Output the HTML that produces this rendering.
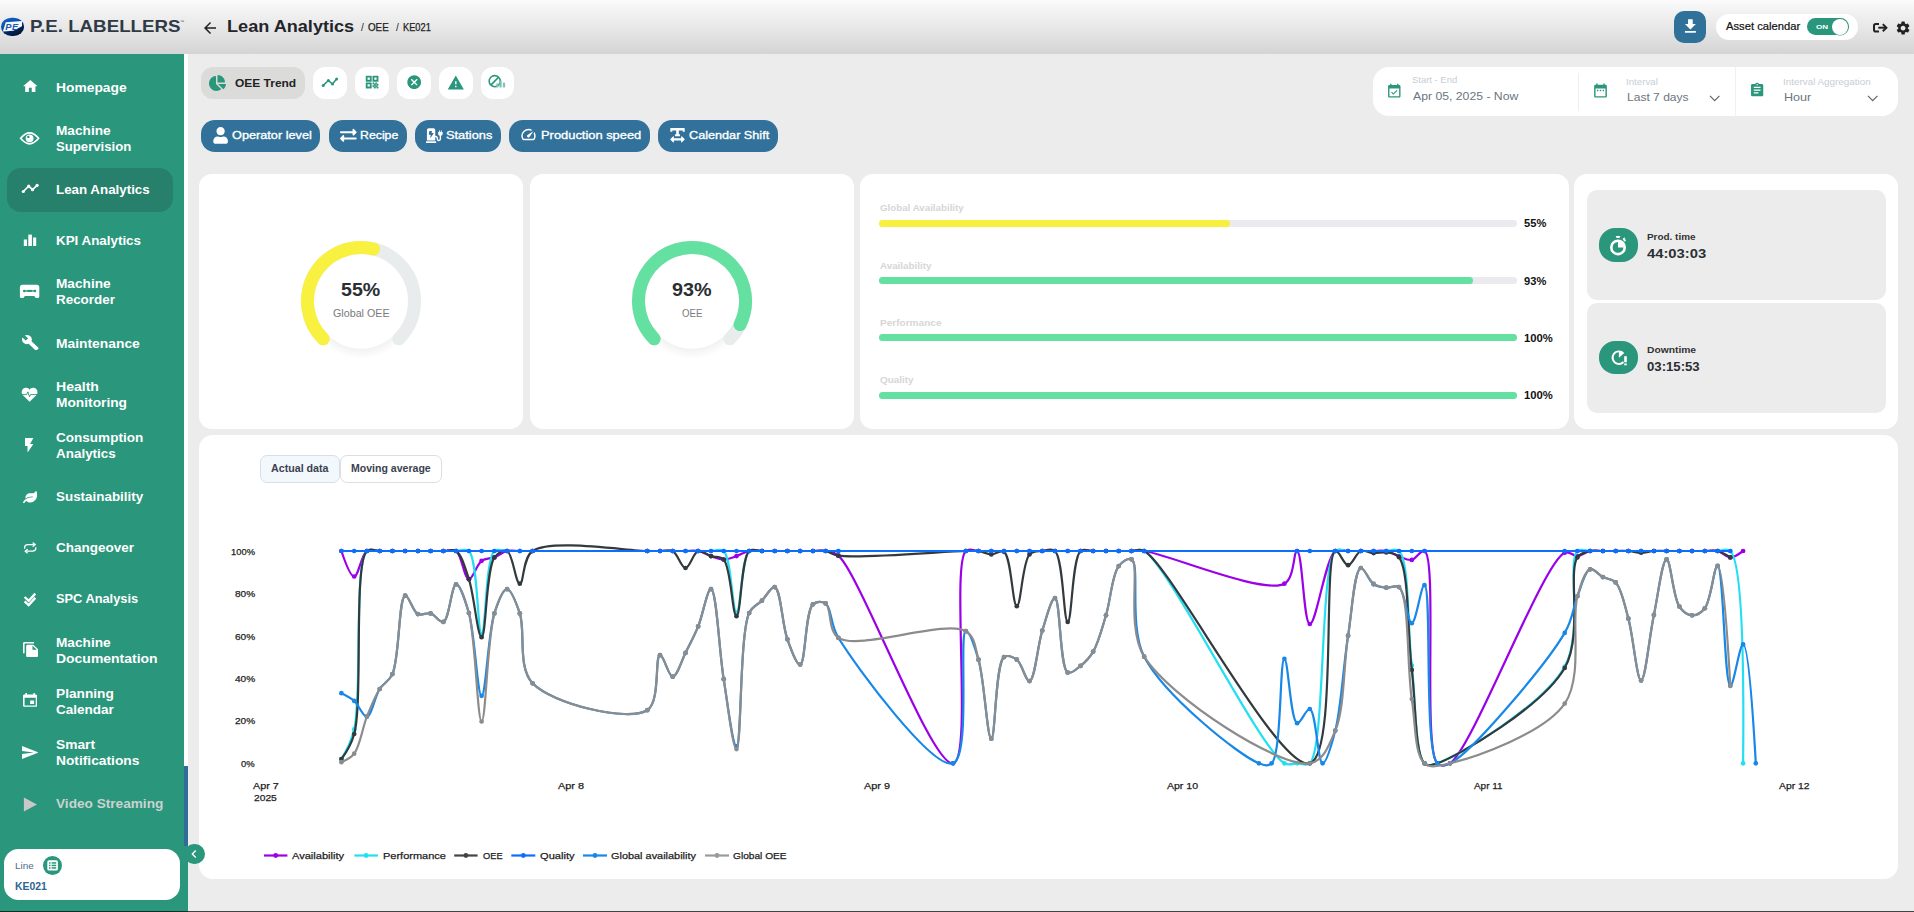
<!DOCTYPE html>
<html lang="en"><head><meta charset="utf-8"><title>Lean Analytics - OEE - KE021</title>
<style>
*{box-sizing:border-box;margin:0;padding:0}
html,body{width:1914px;height:912px;overflow:hidden;background:#ececec;font-family:"Liberation Sans",sans-serif;}
.abs,.t,svg.i{position:absolute}
.t{white-space:nowrap;display:block;transform-origin:0 50%}
#hdr{left:0;top:0;width:1914px;height:54px;background:linear-gradient(#fbfbfb 0%,#f2f2f2 22%,#e6e6e6 55%,#d4d4d4 100%)}
#side{left:0;top:54px;width:184px;height:858px;background:#2a967c;overflow:hidden}
#strack{left:184px;top:54px;width:4px;height:858px;background:#fff}
#sthumb{left:184px;top:766px;width:4px;height:146px;background:#2f6c97}
#sfoot{left:0;top:846px;width:188px;height:66px;background:#2a967c}
#act{left:7px;top:168px;width:166px;height:44px;border-radius:14px;background:#26806b}
.card{background:#fff;border-radius:13px}
.pill{border-radius:12px;background:#fff}
.bb{border-radius:14px;background:#31719a;top:120px;height:32px}
svg.i{display:block}
#btm{left:0;top:911px;width:1914px;height:1px;background:rgba(0,0,0,.72)}
</style></head><body>
<div class="abs" id="hdr"></div>
<svg class="i" style="left:0;top:17px" width="26" height="20" viewBox="0 0 26 20"><defs><linearGradient id="lg" x1="0.1" y1="0" x2="0.75" y2="1"><stop offset="0" stop-color="#0f66cc"/><stop offset="0.4" stop-color="#0a4fae"/><stop offset="0.64" stop-color="#05265e"/><stop offset="1" stop-color="#02102e"/></linearGradient></defs><rect x="1" y="0.7" width="23.1" height="18.3" rx="10.5" ry="9.1" fill="url(#lg)"/><path d="M5.7 5.3L22 4.1L22 9.3L13.4 13.8L2.9 14.4Z" fill="#f3f9ff"/><text x="5.3" y="12.9" font-family="Liberation Sans, sans-serif" font-weight="700" font-style="italic" font-size="9.3" fill="#1b58ae" letter-spacing="0.6">PE</text></svg>
<span class="t" id="logo" style="left:29.5px;top:17px;font-size:16.5px;line-height:18px;color:#2f3a44;font-weight:700;transform:scaleX(1.1346);">P.E. LABELLERS</span>
<span class="t" id="t2" style="left:180.0px;top:19px;font-size:4px;line-height:5px;color:#2f3a44;">™</span>
<svg class="i" style="left:201.0px;top:18.8px" width="18.0" height="18.0" viewBox="0 0 24 24" fill="#222" ><path d="M20 11H7.83l5.59-5.59L12 4l-8 8 8 8 1.41-1.41L7.83 13H20v-2z"/></svg>
<span class="t" id="title" style="left:227.3px;top:18px;font-size:16px;line-height:17px;color:#23252b;font-weight:700;transform:scaleX(1.1322);">Lean Analytics</span>
<span class="t" id="t4" style="left:360.9px;top:22px;font-size:10px;line-height:11px;color:#222;">/</span>
<span class="t" id="bc1" style="left:368.0px;top:22px;font-size:10px;line-height:11px;color:#222;transform:scaleX(0.9799);-webkit-text-stroke:0.25px #222;">OEE</span>
<span class="t" id="t6" style="left:396.0px;top:22px;font-size:10px;line-height:11px;color:#222;">/</span>
<span class="t" id="bc2" style="left:402.9px;top:22px;font-size:10px;line-height:11px;color:#222;transform:scaleX(0.9257);-webkit-text-stroke:0.25px #222;">KE021</span>
<div class="abs " style="left:1674.2px;top:10.8px;width:31.8px;height:32.0px;background:#30719a;border-radius:10px"></div>
<svg class="i" style="left:1680.9px;top:16.6px" width="18.8" height="18.8" viewBox="0 0 24 24" fill="#fff" ><path d="M19 9h-4V3H9v6H5l7 7 7-7zM5 18v2h14v-2H5z"/></svg>
<div class="abs " style="left:1716.0px;top:13.8px;width:142.0px;height:26.2px;background:#fff;border-radius:13.1px"></div>
<span class="t" id="asset" style="left:1725.6px;top:21px;font-size:10.3px;line-height:11px;color:#111;transform:scaleX(1.0892);-webkit-text-stroke:0.2px #111;">Asset calendar</span>
<div class="abs " style="left:1807.0px;top:18.4px;width:41.8px;height:17.0px;background:#2a967c;border-radius:8.5px"></div>
<div class="abs " style="left:1832.2px;top:18.9px;width:16.0px;height:16.0px;background:#fff;border-radius:8px;box-shadow:0 0 0 0.6px #2a967c"></div>
<span class="t" id="on" style="left:1815.9px;top:24px;font-size:6px;line-height:6px;color:#fff;font-weight:700;transform:scaleX(1.3444);">ON</span>
<svg class="i" style="left:1870.0px;top:20.0px" width="20.0" height="16.0" viewBox="1870 20 20 16" fill="#fff" ><g fill="none" stroke="#222" stroke-width="2"><path d="M1879 23.9H1875.8A1.8 1.8 0 0 0 1874 25.7V29.700A1.8 1.8 0 0 0 1875.8 31.500H1879"/><path d="M1878.300 27.700H1885.600"/><path d="M1882.800 24.100L1886.400 27.700L1882.800 31.300"/></g></svg>
<svg class="i" style="left:1894.8px;top:19.9px" width="16.2" height="16.2" viewBox="0 0 24 24" fill="#222" ><path d="M19.14 12.94c.04-.3.06-.61.06-.94 0-.32-.02-.64-.07-.94l2.03-1.58c.18-.14.23-.41.12-.61l-1.92-3.32c-.12-.22-.37-.29-.59-.22l-2.39.96c-.5-.38-1.03-.7-1.62-.94l-.36-2.54c-.04-.24-.24-.41-.48-.41h-3.84c-.24 0-.43.17-.47.41l-.36 2.54c-.59.24-1.13.57-1.62.94l-2.39-.96c-.22-.08-.47 0-.59.22L2.74 8.87c-.12.21-.08.47.12.61l2.03 1.58c-.05.3-.09.63-.09.94s.02.64.07.94l-2.03 1.58c-.18.14-.23.41-.12.61l1.92 3.32c.12.22.37.29.59.22l2.39-.96c.5.38 1.03.7 1.62.94l.36 2.54c.05.24.24.41.48.41h3.84c.24 0 .44-.17.47-.41l.36-2.54c.59-.24 1.13-.56 1.62-.94l2.39.96c.22.08.47 0 .59-.22l1.92-3.32c.12-.22.07-.47-.12-.61l-2.01-1.58zM12 15.6c-1.98 0-3.6-1.62-3.6-3.6s1.62-3.6 3.6-3.6 3.6 1.62 3.6 3.6-1.62 3.6-3.6 3.6z"/></svg>
<div class="abs" id="side"></div>
<div class="abs" id="strack"></div>
<div class="abs" id="sthumb"></div>
<div class="abs" id="act"></div>
<svg class="i" style="left:22.8px;top:79.9px" width="14.6" height="12.0" viewBox="2 3 20 17" preserveAspectRatio="none" fill="#fff"><path d="M10 20v-6h4v6h5v-8h3L12 3 2 12h3v8z"/></svg>
<span class="t" id="sb0" style="left:55.8px;top:80px;font-size:13px;line-height:15px;color:#fff;font-weight:700;transform:scaleX(1.0637);">Homepage</span>
<svg class="i" style="left:18.0px;top:130.0px" width="24.0" height="17.0" viewBox="18 130 24 17" fill="#fff"><path d="M20.600 138.300Q29.600 127.300 38.600 138.300Q29.600 149.300 20.600 138.300Z" fill="none" stroke="#fff" stroke-width="1.7"/><circle cx="29.600" cy="138.300" r="3.900"/><circle cx="28.300" cy="136.900" r="1.200" fill="#2a967c"/></svg>
<span class="t" id="sb1a" style="left:55.8px;top:123px;font-size:13px;line-height:15px;color:#fff;font-weight:700;transform:scaleX(1.0497);">Machine</span>
<span class="t" id="sb1b" style="left:55.8px;top:139px;font-size:13px;line-height:15px;color:#fff;font-weight:700;transform:scaleX(1.0118);">Supervision</span>
<svg class="i" style="left:20.0px;top:182.0px" width="20.0" height="13.0" viewBox="20 182 20 13" fill="#fff"><path d="M23.300 191.500L28.700 186.100L32.500 189.700L37.100 185.300" fill="none" stroke="#fff" stroke-width="1.700" stroke-linejoin="round"/><circle cx="23.300" cy="191.500" r="1.600"/><circle cx="28.700" cy="186.100" r="1.600"/><circle cx="32.500" cy="189.700" r="1.600"/><circle cx="37.100" cy="185.300" r="1.600"/></svg>
<span class="t" id="sb2" style="left:55.8px;top:182px;font-size:13px;line-height:15px;color:#fff;font-weight:700;transform:scaleX(1.0265);">Lean Analytics</span>
<svg class="i" style="left:22.0px;top:233.0px" width="16.0" height="14.0" viewBox="22 233 16 14" fill="#fff"><rect x="23.800" y="239.500" width="3.200" height="6.500"/><rect x="28.300" y="234.600" width="3.600" height="11.400"/><rect x="33.100" y="237.500" width="3.100" height="8.500"/></svg>
<span class="t" id="sb3" style="left:55.8px;top:233px;font-size:13px;line-height:15px;color:#fff;font-weight:700;transform:scaleX(1.0289);">KPI Analytics</span>
<svg class="i" style="left:19.0px;top:284.0px" width="21.0" height="15.0" viewBox="19 284 21 15" fill="#fff"><path d="M22.400 284.800H36.800A2.500 2.500 0 0 1 39.300 287.300V296.400A1.500 1.500 0 0 1 37.800 297.900H35.800L34.300 295.900H24.900L23.400 297.900H21.400A1.500 1.500 0 0 1 19.900 296.400V287.300A2.500 2.500 0 0 1 22.400 284.800Z"/><g fill="#2a967c"><rect x="23.500" y="290.300" width="12.200" height="1.300"/><circle cx="24.300" cy="290.950" r="1.300"/><circle cx="34.900" cy="290.950" r="1.300"/><rect x="27.300" y="289.900" width="4.600" height="2.100"/></g></svg>
<span class="t" id="sb4a" style="left:55.8px;top:276px;font-size:13px;line-height:15px;color:#fff;font-weight:700;transform:scaleX(1.0497);">Machine</span>
<span class="t" id="sb4b" style="left:55.8px;top:292px;font-size:13px;line-height:15px;color:#fff;font-weight:700;transform:scaleX(1.0319);">Recorder</span>
<svg class="i" style="left:21.8px;top:334.6px" width="16.8" height="15.3" viewBox="1 1.2 22.2 21.400000000000002" preserveAspectRatio="none" fill="#fff"><path d="M22.7 19l-9.1-9.1c.9-2.3.4-5-1.5-6.9-2-2-5-2.4-7.4-1.3L9 6 6 9 1.6 4.7C.4 7.1.9 10.1 2.9 12.1c1.9 1.9 4.6 2.4 6.9 1.5l9.1 9.1c.4.4 1 .4 1.4 0l2.3-2.3c.5-.4.5-1.1.1-1.4z"/></svg>
<span class="t" id="sb5" style="left:55.8px;top:336px;font-size:13px;line-height:15px;color:#fff;font-weight:700;transform:scaleX(1.0641);">Maintenance</span>
<svg class="i" style="left:20.0px;top:386.0px" width="20.0" height="17.0" viewBox="20 386 20 17" fill="#fff"><path d="M29.600 401.800L22.900 395.300C20.700 393.100 21.600 389.300 24.500 388.100C26.500 387.300 28.500 388.100 29.600 389.700C30.700 388.100 32.700 387.300 34.700 388.100C37.600 389.300 38.500 393.100 36.300 395.300Z"/><path d="M21.500 394.600H26.700L27.900 391.900L29.500 396.800L30.500 394.600H37.700" fill="none" stroke="#2a967c" stroke-width="0.9"/></svg>
<span class="t" id="sb6a" style="left:55.8px;top:379px;font-size:13px;line-height:15px;color:#fff;font-weight:700;transform:scaleX(1.0797);">Health</span>
<span class="t" id="sb6b" style="left:55.8px;top:395px;font-size:13px;line-height:15px;color:#fff;font-weight:700;transform:scaleX(1.0572);">Monitoring</span>
<svg class="i" style="left:25.3px;top:437.6px" width="8.4" height="14.7" viewBox="7 2 10 20" preserveAspectRatio="none" fill="#fff"><path d="M7 2v11h3v9l7-12h-4l4-8z"/></svg>
<span class="t" id="sb7a" style="left:55.8px;top:430px;font-size:13px;line-height:15px;color:#fff;font-weight:700;transform:scaleX(1.0410);">Consumption</span>
<span class="t" id="sb7b" style="left:55.8px;top:446px;font-size:13px;line-height:15px;color:#fff;font-weight:700;transform:scaleX(1.0344);">Analytics</span>
<svg class="i" style="left:22.6px;top:490.7px" width="14.2" height="12.3" viewBox="0 0 576 512" preserveAspectRatio="none" fill="#fff"><path d="M546.2 9.7c-5.6-12.5-21.6-13-28.3-1.2C486.9 62.4 431.4 96 368 96h-80C182 96 96 182 96 288c0 7 .8 13.700 1.500 20.500C161.300 262.800 253.400 224 384 224c8.800 0 16 7.200 16 16s-7.200 16-16 16C132.600 256 26 410.100 2.400 468c-6.600 16.300 1.200 34.900 17.500 41.600 16.400 6.800 35-1.100 41.800-17.300 1.500-3.600 20.900-47.900 71.900-90.600 32.400 43.900 94 85.800 174.900 77.200C465.500 467.500 576 326.700 576 154.300c0-50.200-10.800-102.200-29.800-144.600z"/></svg>
<span class="t" id="sb8" style="left:55.8px;top:489px;font-size:13px;line-height:15px;color:#fff;font-weight:700;transform:scaleX(1.0316);">Sustainability</span>
<svg class="i" style="left:22.0px;top:541.0px" width="16.0" height="14.0" viewBox="22 541 16 14" fill="#fff"><g fill="none" stroke="#fff" stroke-width="1.300" stroke-linecap="round" stroke-linejoin="round"><path d="M24.600 548.200V547.700A3.100 3.100 0 0 1 27.700 544.600H35"/><path d="M33.100 542.900L35.200 544.600L33.100 546.300"/><path d="M35.800 547.600V548.100A3.100 3.100 0 0 1 32.700 551.200H25.400"/><path d="M27.300 549.500L25.200 551.200L27.300 552.900"/></g></svg>
<span class="t" id="sb9" style="left:55.8px;top:540px;font-size:13px;line-height:15px;color:#fff;font-weight:700;transform:scaleX(1.0394);">Changeover</span>
<svg class="i" style="left:22.0px;top:591.0px" width="16.0" height="16.0" viewBox="22 591 16 16" fill="#fff"><g fill="none" stroke="#fff" stroke-width="2.300"><path d="M24.600 597L28.700 600.800L35.300 593.600"/><path d="M24.600 601.300L28.700 605.100L35.300 597.900"/></g></svg>
<span class="t" id="sb10" style="left:55.8px;top:591px;font-size:13px;line-height:15px;color:#fff;font-weight:700;transform:scaleX(0.9851);">SPC Analysis</span>
<svg class="i" style="left:22.6px;top:642.0px" width="15.0" height="15.3" viewBox="2 1 19 22" preserveAspectRatio="none" fill="#fff"><path d="M16 1H4c-1.1 0-2 .9-2 2v14h2V3h12V1zm-1 4l6 6v10c0 1.1-.9 2-2 2H7.99C6.89 23 6 22.1 6 21l.01-14c0-1.1.89-2 1.99-2h7zm-1 7h5.5L14 6.5V12z"/></svg>
<span class="t" id="sb11a" style="left:55.8px;top:635px;font-size:13px;line-height:15px;color:#fff;font-weight:700;transform:scaleX(1.0497);">Machine</span>
<span class="t" id="sb11b" style="left:55.8px;top:651px;font-size:13px;line-height:15px;color:#fff;font-weight:700;transform:scaleX(1.0737);">Documentation</span>
<svg class="i" style="left:23.0px;top:692.9px" width="14.3" height="13.8" viewBox="3 1 18 20" preserveAspectRatio="none" fill="#fff"><path d="M17 12h-5v5h5v-5zM16 1v2H8V1H6v2H5c-1.11 0-1.99.9-1.99 2L3 19c0 1.1.89 2 2 2h14c1.1 0 2-.9 2-2V5c0-1.1-.9-2-2-2h-1V1h-2zm3 18H5V8h14v11z"/></svg>
<span class="t" id="sb12a" style="left:55.8px;top:686px;font-size:13px;line-height:15px;color:#fff;font-weight:700;transform:scaleX(1.0530);">Planning</span>
<span class="t" id="sb12b" style="left:55.8px;top:702px;font-size:13px;line-height:15px;color:#fff;font-weight:700;transform:scaleX(1.0388);">Calendar</span>
<svg class="i" style="left:21.5px;top:745.8px" width="16.4" height="13.0" viewBox="2 3 21 18" preserveAspectRatio="none" fill="#fff"><path d="M2.01 21L23 12 2.01 3 2 10l15 2-15 2z"/></svg>
<span class="t" id="sb13a" style="left:55.8px;top:737px;font-size:13px;line-height:15px;color:#fff;font-weight:700;transform:scaleX(1.0581);">Smart</span>
<span class="t" id="sb13b" style="left:55.8px;top:753px;font-size:13px;line-height:15px;color:#fff;font-weight:700;transform:scaleX(1.0593);">Notifications</span>
<svg class="i" style="left:22.0px;top:796.0px" width="16.0" height="17.0" viewBox="22 796 16 17" fill="#c8c8c8"><path d="M23.900 797.400L36.900 804.500L23.900 811.600Z"/></svg>
<span class="t" id="sb14" style="left:55.8px;top:796px;font-size:13px;line-height:15px;color:#c9d3cf;font-weight:700;transform:scaleX(1.0484);">Video Streaming</span>
<div class="abs" id="sfoot"></div>
<div class="abs " style="left:4.0px;top:848.7px;width:176.2px;height:51.4px;background:#fff;border-radius:14.5px"></div>
<span class="t" id="line" style="left:14.5px;top:861px;font-size:9px;line-height:10px;color:#4f6e8c;transform:scaleX(1.1049);">Line</span>
<div class="abs " style="left:43.0px;top:856.0px;width:19.0px;height:19.0px;background:#2a967c;border-radius:50%"></div>
<svg class="i" style="left:43.0px;top:856.0px" width="19.0" height="19.0" viewBox="43 856 19 19" fill="#fff" ><rect x="47.3" y="860.3" width="10.6" height="10.2" rx="1.6"/><g fill="#2a967c"><rect x="49" y="862.2" width="1.5" height="1.5"/><rect x="49" y="864.700" width="1.5" height="1.5"/><rect x="49" y="867.200" width="1.5" height="1.5"/><rect x="51.600" y="862.2" width="4.600" height="1.5"/><rect x="51.600" y="864.700" width="4.600" height="1.5"/><rect x="51.600" y="867.200" width="4.600" height="1.5"/></g></svg>
<span class="t" id="ke" style="left:14.5px;top:880px;font-size:11px;line-height:12px;color:#2f6690;font-weight:700;transform:scaleX(0.9453);">KE021</span>
<div class="abs " style="left:201.2px;top:67.0px;width:103.8px;height:31.8px;background:#dbdbd9;border-radius:12px"></div>
<svg class="i" style="left:209.2px;top:74.7px" width="17.0" height="16.0" viewBox="0 0 544 512" fill="#2a967c" ><path d="M527.79 288H290.5l158.03 158.03c6.04 6.04 15.98 6.53 22.19.68 38.7-36.46 65.32-85.61 73.13-140.86 1.34-9.46-6.51-17.85-16.06-17.85zm-15.83-64.8C503.72 103.74 408.26 8.28 288.8.04 279.68-.59 272 7.1 272 16.24V240h223.77c9.14 0 16.82-7.68 16.19-16.8zM224 288V50.71c0-9.55-8.39-17.4-17.84-16.06C86.99 51.49-4.1 155.6.14 280.37 4.5 408.51 114.83 513.59 243.03 511.98c50.4-.63 96.97-16.87 135.26-44.03 7.9-5.6 8.42-17.23 1.57-24.08L224 288z"/></svg>
<span class="t" id="oeet" style="left:234.8px;top:77px;font-size:11px;line-height:12px;color:#222;font-weight:700;transform:scaleX(1.0880);">OEE Trend</span>
<div class="abs pill" style="left:313.0px;top:67.0px;width:33.7px;height:31.8px;"></div>
<div class="abs pill" style="left:355.0px;top:67.0px;width:33.7px;height:31.8px;"></div>
<div class="abs pill" style="left:397.0px;top:67.0px;width:33.7px;height:31.8px;"></div>
<div class="abs pill" style="left:439.1px;top:67.0px;width:33.7px;height:31.8px;"></div>
<div class="abs pill" style="left:480.8px;top:67.0px;width:33.7px;height:31.8px;"></div>
<svg class="i" style="left:313.0px;top:67.0px" width="34.0" height="32.0" viewBox="313 67 34 32" fill="#fff" ><path d="M323.2 85.4L328.4 80.5L332.5 84.1L336.6 79.1" fill="none" stroke="#2a967c" stroke-width="1.6" stroke-linejoin="round"/><g fill="#2a967c"><circle cx="323.2" cy="85.4" r="1.5"/><circle cx="328.4" cy="80.5" r="1.5"/><circle cx="332.5" cy="84.1" r="1.5"/><circle cx="336.6" cy="79.1" r="1.5"/></g></svg>
<svg class="i" style="left:364.0px;top:74.2px" width="16.2" height="16.2" viewBox="0 0 24 24" fill="#2a967c" stroke="#2a967c" stroke-width="0.7"><path d="M3 11h8V3H3v8zm2-6h4v4H5V5zM3 21h8v-8H3v8zm2-6h4v4H5v-4zM13 3v8h8V3h-8zm6 6h-4V5h4v4zM13 13h2v2h-2zM15 15h2v2h-2zM13 17h2v2h-2zM17 13h2v2h-2zM19 15h2v2h-2zM17 17h2v2h-2zM15 19h2v2h-2zM19 19h2v2h-2z"/></svg>
<svg class="i" style="left:405.8px;top:74.2px" width="16.4" height="16.4" viewBox="0 0 24 24" fill="#2a967c" ><path d="M12 2C6.47 2 2 6.47 2 12s4.47 10 10 10 10-4.47 10-10S17.53 2 12 2zm5 13.59L15.59 17 12 13.41 8.41 17 7 15.59 10.59 12 7 8.41 8.41 7 12 10.59 15.59 7 17 8.41 13.41 12 17 15.59z"/></svg>
<svg class="i" style="left:447.2px;top:73.6px" width="17.6" height="17.6" viewBox="0 0 24 24" fill="#2a967c" ><path d="M1 21h22L12 2 1 21zm12-3h-2v-2h2v2zm0-4h-2v-4h2v4z"/></svg>
<svg class="i" style="left:488.0px;top:73.5px" width="19.0" height="19.0" viewBox="0 0 24 24" fill="#2a967c" ><circle cx="8.5" cy="9" r="7" fill="none" stroke="#2a967c" stroke-width="2"/><path d="M3.6 14L13.4 4" stroke="#2a967c" stroke-width="2"/><g fill="#7fc3b2"><rect x="10.5" y="12" width="2.6" height="5"/><rect x="14.5" y="8.5" width="2.8" height="8.500"/><rect x="18.800" y="11" width="2.800" height="6"/></g></svg>
<div class="abs bb" style="left:201.2px;top:119.9px;width:118.6px;height:32.1px;"></div>
<svg class="i" style="left:212.7px;top:127.2px" width="15.2" height="16.7" viewBox="0 0 448 512" fill="#fff" ><path d="M224 256c70.7 0 128-57.3 128-128S294.7 0 224 0 96 57.3 96 128s57.3 128 128 128zm89.6 32h-16.7c-22.2 10.2-46.9 16-72.9 16s-50.6-5.8-72.9-16h-16.7C60.2 288 0 348.2 0 422.4V464c0 26.5 21.5 48 48 48h352c26.5 0 48-21.5 48-48v-41.6c0-74.2-60.2-134.4-134.4-134.4z"/></svg>
<span class="t" id="bb0" style="left:231.7px;top:129px;font-size:11.6px;line-height:12px;color:#fff;transform:scaleX(1.0957);-webkit-text-stroke:0.35px #fff;">Operator level</span>
<div class="abs bb" style="left:329.1px;top:119.9px;width:77.6px;height:32.1px;"></div>
<svg class="i" style="left:340.0px;top:127.0px" width="16.7" height="16.7" viewBox="0 0 512 512" fill="#fff" ><path d="M0 168v-16c0-13.255 10.745-24 24-24h360V80c0-21.367 25.899-32.042 40.971-16.971l80 80c9.372 9.373 9.372 24.569 0 33.941l-80 80C409.956 271.982 384 261.456 384 240v-48H24c-13.255 0-24-10.745-24-24zm488 152H128v-48c0-21.314-25.862-32.08-40.971-16.971l-80 80c-9.372 9.373-9.372 24.569 0 33.941l80 80C102.057 463.997 128 453.437 128 432v-48h360c13.255 0 24-10.745 24-24v-16c0-13.255-10.745-24-24-24z"/></svg>
<span class="t" id="bb1" style="left:359.8px;top:129px;font-size:11.6px;line-height:12px;color:#fff;transform:scaleX(1.0611);-webkit-text-stroke:0.35px #fff;">Recipe</span>
<div class="abs bb" style="left:415.0px;top:119.9px;width:85.8px;height:32.1px;"></div>
<svg class="i" style="left:426.2px;top:127.5px" width="16.7" height="15.5" viewBox="0 0 576 512" fill="#fff" ><path d="M336 448H16c-8.84 0-16 7.16-16 16v32c0 8.84 7.16 16 16 16h320c8.84 0 16-7.16 16-16v-32c0-8.84-7.16-16-16-16zm208-320V80c0-8.84-7.16-16-16-16s-16 7.16-16 16v48h-32V80c0-8.84-7.16-16-16-16s-16 7.16-16 16v48h-16c-8.84 0-16 7.16-16 16v32c0 35.76 23.62 65.69 56 75.93v118.49c0 13.95-9.5 26.92-23.26 29.19C431.22 402.5 416 388.99 416 372v-28c0-48.6-39.4-88-88-88h-8V64c0-35.35-28.65-64-64-64H96C60.65 0 32 28.65 32 64v352h288V304h8c22.09 0 40 17.91 40 40v24.61c0 39.67 28.92 75.16 68.41 79.01C481.71 452.05 520 416.41 520 372V251.930c32.38-10.24 56-40.17 56-75.93v-32c0-8.84-7.16-16-16-16h-16zm-283.91 47.76l-93.7 139c-2.2 3.33-6.21 5.24-10.39 5.240-7.67 0-13.47-6.28-11.67-12.92L167.350 224H108c-7.25 0-12.85-5.59-11.89-11.89l16-107C112.900 99.900 117.980 96 124 96h68c7.88 0 13.62 6.54 11.600 13.210L192 160h57.700c9.240 0 15.010 8.780 10.390 15.760z"/></svg>
<span class="t" id="bb2" style="left:446.3px;top:129px;font-size:11.6px;line-height:12px;color:#fff;transform:scaleX(1.1048);-webkit-text-stroke:0.35px #fff;">Stations</span>
<div class="abs bb" style="left:508.9px;top:119.9px;width:140.9px;height:32.1px;"></div>
<svg class="i" style="left:520.4px;top:125.6px" width="17.0" height="17.0" viewBox="0 0 24 24" fill="#fff" ><path d="M20.38 8.57l-1.23 1.85a8 8 0 0 1-.22 7.58H5.07A8 8 0 0 1 15.58 6.85l1.85-1.23A10 10 0 0 0 3.35 19a2 2 0 0 0 1.72 1h13.85a2 2 0 0 0 1.74-1 10 10 0 0 0-.27-10.44zm-9.79 6.84a2 2 0 0 0 2.83 0l5.66-8.49-8.49 5.66a2 2 0 0 0 0 2.83z"/></svg>
<span class="t" id="bb3" style="left:540.5px;top:129px;font-size:11.6px;line-height:12px;color:#fff;transform:scaleX(1.1114);-webkit-text-stroke:0.35px #fff;">Production speed</span>
<div class="abs bb" style="left:658.1px;top:119.9px;width:119.8px;height:32.1px;"></div>
<svg class="i" style="left:669.8px;top:127.0px" width="15.0" height="16.5" viewBox="0 0 448 512" fill="#fff" ><path d="M432 32H16A16 16 0 0 0 0 48v80a16 16 0 0 0 16 16h32a16 16 0 0 0 16-16v-16h120v112h-24a16 16 0 0 0-16 16v32a16 16 0 0 0 16 16h128a16 16 0 0 0 16-16v-32a16 16 0 0 0-16-16h-24V112h120v16a16 16 0 0 0 16 16h32a16 16 0 0 0 16-16V48a16 16 0 0 0-16-16zm-68.69 260.69C354 283.36 336 288.36 336 304v48H112v-48c0-14.31-17.31-21.32-27.31-11.31l-80 80a16 16 0 0 0 0 22.62l80 80C94 484.64 112 479.64 112 464v-48h224v48c0 14.31 17.31 21.33 27.31 11.31l80-80a16 16 0 0 0 0-22.62z"/></svg>
<span class="t" id="bb4" style="left:689.1px;top:129px;font-size:11.6px;line-height:12px;color:#fff;transform:scaleX(1.0916);-webkit-text-stroke:0.35px #fff;">Calendar Shift</span>
<div class="abs " style="left:1373.1px;top:67.1px;width:525.3px;height:49.4px;background:#fff;border-radius:16px"></div>
<svg class="i" style="left:1386.3px;top:82.6px" width="16.6" height="16.6" viewBox="0 0 24 24" fill="#2a967c" ><path d="M16.53 11.06L15.47 10l-4.88 4.88-2.12-2.12-1.06 1.06L10.59 17l5.94-5.94zM19 3h-1V1h-2v2H8V1H6v2H5c-1.11 0-1.99.9-1.99 2L3 19c0 1.1.89 2 2 2h14c1.1 0 2-.9 2-2V5c0-1.1-.9-2-2-2zm0 16H5V8h14v11z"/></svg>
<span class="t" id="f1" style="left:1412.0px;top:75px;font-size:9.2px;line-height:10px;color:#c6ced6;transform:scaleX(1.0291);">Start - End</span>
<span class="t" id="f2" style="left:1412.7px;top:90px;font-size:11px;line-height:12px;color:#6c7680;transform:scaleX(1.1110);">Apr 05, 2025 - Now</span>
<div class="abs " style="left:1578.0px;top:72.6px;width:1.0px;height:38.0px;background:#efefef"></div>
<svg class="i" style="left:1591.5px;top:81.6px" width="17.0" height="17.0" viewBox="0 0 24 24" fill="#2a967c" ><path d="M9 11H7v2h2v-2zm4 0h-2v2h2v-2zm4 0h-2v2h2v-2zm2-7h-1V2h-2v2H8V2H6v2H5c-1.11 0-1.99.9-1.99 2L3 20c0 1.1.89 2 2 2h14c1.1 0 2-.9 2-2V6c0-1.1-.9-2-2-2zm0 16H5V9h14v11z"/></svg>
<span class="t" id="f3" style="left:1626.2px;top:77px;font-size:9px;line-height:10px;color:#c6ced6;transform:scaleX(1.0774);">Interval</span>
<span class="t" id="f4" style="left:1626.6px;top:91px;font-size:11px;line-height:12px;color:#6c7680;transform:scaleX(1.0948);">Last 7 days</span>
<svg class="i" style="left:1708.6px;top:95.3px" width="11.4" height="6.6" viewBox="0 0 12 7" fill="#fff" ><path d="M1 1l5 5 5-5" fill="none" stroke="#666" stroke-width="1.3"/></svg>
<div class="abs " style="left:1735.0px;top:67.1px;width:1.0px;height:49.4px;background:#f1f1f1"></div>
<svg class="i" style="left:1749.2px;top:81.7px" width="16.3" height="16.3" viewBox="0 0 24 24" fill="#2a967c" ><path d="M19 3h-4.18C14.4 1.84 13.3 1 12 1c-1.3 0-2.4.84-2.82 2H5c-1.1 0-2 .9-2 2v14c0 1.1.9 2 2 2h14c1.1 0 2-.9 2-2V5c0-1.1-.9-2-2-2zm-7 0c.55 0 1 .45 1 1s-.45 1-1 1-1-.45-1-1 .45-1 1-1zm2 14H7v-2h7v2zm3-4H7v-2h10v2zm0-4H7V7h10v2z"/></svg>
<span class="t" id="f5" style="left:1783.3px;top:77px;font-size:9px;line-height:10px;color:#c6ced6;transform:scaleX(1.0954);">Interval Aggregation</span>
<span class="t" id="f6" style="left:1784.2px;top:91px;font-size:11px;line-height:12px;color:#6c7680;transform:scaleX(1.1450);">Hour</span>
<svg class="i" style="left:1866.8px;top:95.3px" width="11.4" height="6.6" viewBox="0 0 12 7" fill="#fff" ><path d="M1 1l5 5 5-5" fill="none" stroke="#666" stroke-width="1.3"/></svg>
<div class="abs card" style="left:199.0px;top:173.8px;width:324.0px;height:255.4px;"></div>
<div class="abs card" style="left:530.0px;top:173.8px;width:324.0px;height:255.4px;"></div>
<div class="abs card" style="left:860.0px;top:173.8px;width:708.5px;height:255.4px;"></div>
<div class="abs card" style="left:1573.8px;top:173.8px;width:324.4px;height:255.4px;"></div>
<svg class="i" style="left:291.0px;top:231.2px" width="140" height="140" viewBox="291.0 231.2 140 140"><defs><radialGradient id="sh361" cx="0.5" cy="0.5" r="0.5"><stop offset="0.82" stop-color="#000" stop-opacity="0.05"/><stop offset="1" stop-color="#000" stop-opacity="0"/></radialGradient></defs><circle cx="361.0" cy="305.2" r="54" fill="url(#sh361)"/><circle cx="361.0" cy="301.2" r="47.5" fill="#fff"/><path d="M323.17 339.03 A53.50 53.50 0 1 1 398.83 339.03" fill="none" stroke="#e8ecec" stroke-width="13" stroke-linecap="round"/><path d="M323.17 339.03 A53.50 53.50 0 0 1 373.49 249.18" fill="none" stroke="#f9f13f" stroke-width="13" stroke-linecap="round"/></svg>
<svg class="i" style="left:622.0px;top:231.2px" width="140" height="140" viewBox="622.0 231.2 140 140"><defs><radialGradient id="sh692" cx="0.5" cy="0.5" r="0.5"><stop offset="0.82" stop-color="#000" stop-opacity="0.05"/><stop offset="1" stop-color="#000" stop-opacity="0"/></radialGradient></defs><circle cx="692.0" cy="305.2" r="54" fill="url(#sh692)"/><circle cx="692.0" cy="301.2" r="47.5" fill="#fff"/><path d="M654.17 339.03 A53.50 53.50 0 1 1 729.83 339.03" fill="none" stroke="#e8ecec" stroke-width="13" stroke-linecap="round"/><path d="M654.17 339.03 A53.50 53.50 0 1 1 740.04 324.74" fill="none" stroke="#64e0a0" stroke-width="13" stroke-linecap="round"/></svg>
<span class="t" id="g1" style="left:341.4px;top:280px;font-size:18px;line-height:20px;color:#2b2f33;font-weight:700;transform:scaleX(1.0879);">55%</span>
<span class="t" id="g1l" style="left:332.7px;top:308px;font-size:10px;line-height:11px;color:#7a7a7a;transform:scaleX(1.0717);">Global OEE</span>
<span class="t" id="g2" style="left:672.2px;top:280px;font-size:18px;line-height:20px;color:#2b2f33;font-weight:700;transform:scaleX(1.0990);">93%</span>
<span class="t" id="g2l" style="left:681.8px;top:308px;font-size:10px;line-height:11px;color:#7a7a7a;transform:scaleX(0.9657);">OEE</span>
<span class="t" id="bl0" style="left:879.5px;top:203px;font-size:9px;line-height:10px;color:#d6d6d6;font-weight:700;transform:scaleX(1.0820);">Global Availability</span>
<div class="abs " style="left:878.9px;top:219.8px;width:637.9px;height:7.0px;background:#ebebef;border-radius:3.5px"></div>
<div class="abs " style="left:878.9px;top:219.8px;width:351.4px;height:7.0px;background:#f8ef3e;border-radius:3.5px"></div>
<span class="t" id="bp0" style="left:1523.6px;top:217px;font-size:11px;line-height:12px;color:#111;font-weight:700;transform:scaleX(1.0122);">55%</span>
<span class="t" id="bl1" style="left:879.5px;top:261px;font-size:9px;line-height:10px;color:#d6d6d6;font-weight:700;transform:scaleX(1.0893);">Availability</span>
<div class="abs " style="left:878.9px;top:277.1px;width:637.9px;height:7.0px;background:#ebebef;border-radius:3.5px"></div>
<div class="abs " style="left:878.9px;top:277.1px;width:594.3px;height:7.0px;background:#64e0a0;border-radius:3.5px"></div>
<span class="t" id="bp1" style="left:1523.6px;top:275px;font-size:11px;line-height:12px;color:#111;font-weight:700;transform:scaleX(1.0122);">93%</span>
<span class="t" id="bl2" style="left:879.5px;top:318px;font-size:9px;line-height:10px;color:#d6d6d6;font-weight:700;transform:scaleX(1.1175);">Performance</span>
<div class="abs " style="left:878.9px;top:334.4px;width:637.9px;height:7.0px;background:#ebebef;border-radius:3.5px"></div>
<div class="abs " style="left:878.9px;top:334.4px;width:637.9px;height:7.0px;background:#64e0a0;border-radius:3.5px"></div>
<span class="t" id="bp2" style="left:1523.6px;top:332px;font-size:11px;line-height:12px;color:#111;font-weight:700;transform:scaleX(1.0234);">100%</span>
<span class="t" id="bl3" style="left:879.5px;top:375px;font-size:9px;line-height:10px;color:#d6d6d6;font-weight:700;transform:scaleX(1.1011);">Quality</span>
<div class="abs " style="left:878.9px;top:391.7px;width:637.9px;height:7.0px;background:#ebebef;border-radius:3.5px"></div>
<div class="abs " style="left:878.9px;top:391.7px;width:637.9px;height:7.0px;background:#64e0a0;border-radius:3.5px"></div>
<span class="t" id="bp3" style="left:1523.6px;top:389px;font-size:11px;line-height:12px;color:#111;font-weight:700;transform:scaleX(1.0234);">100%</span>
<div class="abs " style="left:1586.9px;top:189.8px;width:299.3px;height:109.9px;background:#ececec;border-radius:10px"></div>
<div class="abs " style="left:1586.9px;top:303.2px;width:299.3px;height:109.5px;background:#ececec;border-radius:10px"></div>
<div class="abs " style="left:1598.7px;top:227.7px;width:39.1px;height:34.1px;background:#2a967c;border-radius:16px"></div>
<div class="abs " style="left:1598.7px;top:340.8px;width:39.1px;height:33.6px;background:#2a967c;border-radius:16px"></div>
<svg class="i" style="left:1598.0px;top:227.0px" width="40.0" height="36.0" viewBox="1598 227 40 36" fill="#fff" ><g transform="translate(1618 247.4)"><circle r="6.7" fill="none" stroke="#fff" stroke-width="2.6"/><path d="M0 0V-6A6 6 0 0 1 6 0Z"/><path d="M-2.4 -11.4H2.4L1.4 -9.5H-1.4Z"/><path d="M4.6 -8.4L6.4 -10.2L8 -6.6L6.6 -5.6Z"/></g></svg>
<svg class="i" style="left:1598.0px;top:340.0px" width="40.0" height="36.0" viewBox="1598 340 40 36" fill="#fff" ><g transform="translate(1618.9 357.7)"><path d="M0 -6.3A6.3 6.3 0 1 0 4.6 4.3" fill="none" stroke="#fff" stroke-width="1.9"/><path d="M0 0V-7.2A7.2 7.2 0 0 1 5.4 -4.8Z"/><rect x="5.3" y="-1.500" width="2.6" height="6.1"/><rect x="5.3" y="5.8" width="2.6" height="1.800"/></g></svg>
<span class="t" id="pt" style="left:1647.0px;top:232px;font-size:9px;line-height:10px;color:#333;font-weight:700;transform:scaleX(1.1019);">Prod. time</span>
<span class="t" id="ptv" style="left:1647.0px;top:246px;font-size:13px;line-height:15px;color:#2b2f33;font-weight:700;transform:scaleX(1.1374);">44:03:03</span>
<span class="t" id="dt" style="left:1647.0px;top:345px;font-size:9px;line-height:10px;color:#333;font-weight:700;transform:scaleX(1.1414);">Downtime</span>
<span class="t" id="dtv" style="left:1647.0px;top:359px;font-size:13px;line-height:15px;color:#2b2f33;font-weight:700;transform:scaleX(1.0125);">03:15:53</span>
<div class="abs card" style="left:198.9px;top:434.8px;width:1699.3px;height:444.4px;border-radius:14px"></div>
<div class="abs " style="left:260.0px;top:455.4px;width:79.6px;height:27.2px;background:#f3f8fd;border:1px solid #d6e0ea;border-radius:7px"></div>
<div class="abs " style="left:340.4px;top:455.4px;width:101.6px;height:27.2px;background:#fff;border:1px solid #dedede;border-radius:7px"></div>
<span class="t" id="ad" style="left:270.6px;top:462px;font-size:10.8px;line-height:12px;color:#3a4250;font-weight:700;transform:scaleX(0.9879);">Actual data</span>
<span class="t" id="ma" style="left:351.1px;top:462px;font-size:10.8px;line-height:12px;color:#3a4250;font-weight:700;transform:scaleX(0.9766);">Moving average</span>
<span class="t" id="y100" style="left:231.0px;top:546px;font-size:9.6px;line-height:11px;color:#222;transform:scaleX(0.9777);-webkit-text-stroke:0.25px #222;">100%</span>
<span class="t" id="y80" style="left:234.8px;top:588px;font-size:9.6px;line-height:11px;color:#222;transform:scaleX(1.0519);-webkit-text-stroke:0.25px #222;">80%</span>
<span class="t" id="y60" style="left:234.8px;top:631px;font-size:9.6px;line-height:11px;color:#222;transform:scaleX(1.0519);-webkit-text-stroke:0.25px #222;">60%</span>
<span class="t" id="y40" style="left:234.8px;top:673px;font-size:9.6px;line-height:11px;color:#222;transform:scaleX(1.0519);-webkit-text-stroke:0.25px #222;">40%</span>
<span class="t" id="y20" style="left:234.8px;top:715px;font-size:9.6px;line-height:11px;color:#222;transform:scaleX(1.0519);-webkit-text-stroke:0.25px #222;">20%</span>
<span class="t" id="y0" style="left:241.3px;top:758px;font-size:9.6px;line-height:11px;color:#222;transform:scaleX(0.9874);-webkit-text-stroke:0.25px #222;">0%</span>
<span class="t" id="x0" style="left:252.6px;top:780px;font-size:9.6px;line-height:11px;color:#222;transform:scaleX(1.1204);-webkit-text-stroke:0.25px #222;">Apr 7</span>
<span class="t" id="x0b" style="left:254.0px;top:792px;font-size:9.6px;line-height:11px;color:#222;transform:scaleX(1.0682);-webkit-text-stroke:0.25px #222;">2025</span>
<span class="t" id="x8" style="left:558.0px;top:780px;font-size:9.6px;line-height:11px;color:#222;transform:scaleX(1.1335);-webkit-text-stroke:0.25px #222;">Apr 8</span>
<span class="t" id="x9" style="left:864.0px;top:780px;font-size:9.6px;line-height:11px;color:#222;transform:scaleX(1.1335);-webkit-text-stroke:0.25px #222;">Apr 9</span>
<span class="t" id="x10" style="left:1167.0px;top:780px;font-size:9.6px;line-height:11px;color:#222;transform:scaleX(1.0961);-webkit-text-stroke:0.25px #222;">Apr 10</span>
<span class="t" id="x11" style="left:1473.8px;top:780px;font-size:9.6px;line-height:11px;color:#222;transform:scaleX(1.0340);-webkit-text-stroke:0.25px #222;">Apr 11</span>
<span class="t" id="x12" style="left:1778.8px;top:780px;font-size:9.6px;line-height:11px;color:#222;transform:scaleX(1.0785);-webkit-text-stroke:0.25px #222;">Apr 12</span>
<svg class="i" style="left:0;top:0" width="1914" height="912" viewBox="0 0 1914 912"><g><path d="M341.4,551.0Q349.9,576.5 354.2,576.5C358.4,576.5 361.4,554.4 366.9,551.0C370.6,548.7 375.4,551.0 379.7,551.0C383.9,551.0 388.2,551.0 392.4,551.0C396.7,551.0 400.9,551.0 405.2,551.0C409.4,551.0 413.7,551.0 417.9,551.0C422.1,551.0 426.4,551.0 430.6,551.0C434.9,551.0 439.1,551.0 443.4,551.0C447.6,551.0 452.5,548.6 456.1,551.0C461.8,554.7 464.2,578.8 468.9,579.2C472.8,579.6 476.6,564.3 481.6,560.8C485.4,558.1 490.2,558.9 494.4,557.4C498.7,555.7 502.7,552.0 507.1,551.0C511.2,550.0 515.6,551.0 519.8,551.0C524.1,551.0 526.2,551.0 532.6,551.0C551.7,551.0 628.1,551.0 647.3,551.0C653.6,551.0 655.8,551.0 660.0,551.0C664.2,551.0 668.5,551.0 672.7,551.0C677.0,551.0 681.2,551.0 685.5,551.0C689.7,551.0 694.1,550.2 698.2,551.0C702.6,551.8 706.7,554.7 711.0,556.1C715.2,557.5 719.5,559.5 723.7,559.5C728.0,559.5 732.2,557.5 736.5,556.1C740.7,554.7 744.9,551.8 749.2,551.0C753.4,550.2 757.7,551.0 761.9,551.0C766.2,551.0 770.4,551.0 774.7,551.0C778.9,551.0 783.2,551.0 787.4,551.0C791.7,551.0 795.9,551.0 800.2,551.0C804.4,551.0 808.7,551.0 812.9,551.0C817.2,551.0 821.5,550.3 825.6,551.0C830.0,551.8 833.2,551.2 838.4,555.7C860.1,574.3 932.2,768.0 953.1,763.3C972.9,758.8 951.0,564.9 965.8,551.0C969.4,547.6 974.3,551.0 978.5,551.0C982.8,551.0 987.0,551.0 991.3,551.0C995.5,551.0 999.8,551.0 1004.0,551.0C1008.3,551.0 1012.5,551.0 1016.8,551.0C1021.0,551.0 1025.3,551.0 1029.5,551.0C1033.8,551.0 1038.0,551.0 1042.3,551.0C1046.5,551.0 1050.8,551.0 1055.0,551.0C1059.2,551.0 1063.5,551.0 1067.7,551.0C1072.0,551.0 1076.2,551.0 1080.5,551.0C1084.7,551.0 1089.0,551.0 1093.2,551.0C1097.5,551.0 1101.7,551.0 1106.0,551.0C1110.2,551.0 1114.5,551.0 1118.7,551.0C1123.0,551.0 1127.2,551.0 1131.5,551.0C1135.7,551.0 1137.7,550.3 1144.2,551.0C1165.9,553.5 1263.2,594.9 1284.4,583.7C1294.8,578.2 1293.4,550.6 1297.1,551.0C1302.5,551.5 1303.6,623.5 1309.8,624.0C1316.2,624.6 1325.4,558.0 1335.3,551.0C1339.3,548.1 1343.8,551.0 1348.1,551.0C1352.3,551.0 1356.6,551.0 1360.8,551.0C1365.1,551.0 1369.3,551.0 1373.6,551.0C1377.8,551.0 1382.1,550.2 1386.3,551.0C1390.6,551.9 1394.7,554.8 1399.0,556.3C1403.2,557.8 1407.7,560.6 1411.8,559.9C1416.2,559.2 1420.9,549.3 1424.5,551.0C1437.8,557.4 1422.5,749.4 1437.3,763.3C1440.9,766.7 1444.9,766.3 1450.0,763.3C1472.1,750.1 1542.7,562.1 1564.7,552.7C1569.8,550.5 1573.2,556.3 1577.4,556.1C1581.7,555.8 1585.8,551.8 1590.2,551.0C1594.3,550.2 1598.7,551.0 1602.9,551.0C1607.2,551.0 1611.4,551.0 1615.7,551.0C1619.9,551.0 1624.1,551.0 1628.4,551.0C1632.6,551.0 1636.9,551.0 1641.1,551.0C1645.4,551.0 1649.6,551.0 1653.9,551.0C1658.1,551.0 1662.4,551.0 1666.6,551.0C1670.9,551.0 1675.1,551.0 1679.4,551.0C1683.6,551.0 1687.9,551.0 1692.1,551.0C1696.3,551.0 1700.6,551.0 1704.8,551.0C1709.1,551.0 1713.5,550.0 1717.6,551.0C1722.0,552.0 1726.1,557.4 1730.3,557.4Q1734.6,557.4 1743.1,551.0" fill="none" stroke="#9b00e8" stroke-width="2.2"/>
<g fill="#9b00e8"><circle cx="341.4" cy="551.0" r="2.35"/><circle cx="354.2" cy="576.5" r="2.35"/><circle cx="366.9" cy="551.0" r="2.35"/><circle cx="379.7" cy="551.0" r="2.35"/><circle cx="392.4" cy="551.0" r="2.35"/><circle cx="405.2" cy="551.0" r="2.35"/><circle cx="417.9" cy="551.0" r="2.35"/><circle cx="430.6" cy="551.0" r="2.35"/><circle cx="443.4" cy="551.0" r="2.35"/><circle cx="456.1" cy="551.0" r="2.35"/><circle cx="468.9" cy="579.2" r="2.35"/><circle cx="481.6" cy="560.8" r="2.35"/><circle cx="494.4" cy="557.4" r="2.35"/><circle cx="507.1" cy="551.0" r="2.35"/><circle cx="519.8" cy="551.0" r="2.35"/><circle cx="532.6" cy="551.0" r="2.35"/><circle cx="647.3" cy="551.0" r="2.35"/><circle cx="660.0" cy="551.0" r="2.35"/><circle cx="672.7" cy="551.0" r="2.35"/><circle cx="685.5" cy="551.0" r="2.35"/><circle cx="698.2" cy="551.0" r="2.35"/><circle cx="711.0" cy="556.1" r="2.35"/><circle cx="723.7" cy="559.5" r="2.35"/><circle cx="736.5" cy="556.1" r="2.35"/><circle cx="749.2" cy="551.0" r="2.35"/><circle cx="761.9" cy="551.0" r="2.35"/><circle cx="774.7" cy="551.0" r="2.35"/><circle cx="787.4" cy="551.0" r="2.35"/><circle cx="800.2" cy="551.0" r="2.35"/><circle cx="812.9" cy="551.0" r="2.35"/><circle cx="825.6" cy="551.0" r="2.35"/><circle cx="838.4" cy="555.7" r="2.35"/><circle cx="953.1" cy="763.3" r="2.35"/><circle cx="965.8" cy="551.0" r="2.35"/><circle cx="978.5" cy="551.0" r="2.35"/><circle cx="991.3" cy="551.0" r="2.35"/><circle cx="1004.0" cy="551.0" r="2.35"/><circle cx="1016.8" cy="551.0" r="2.35"/><circle cx="1029.5" cy="551.0" r="2.35"/><circle cx="1042.3" cy="551.0" r="2.35"/><circle cx="1055.0" cy="551.0" r="2.35"/><circle cx="1067.7" cy="551.0" r="2.35"/><circle cx="1080.5" cy="551.0" r="2.35"/><circle cx="1093.2" cy="551.0" r="2.35"/><circle cx="1106.0" cy="551.0" r="2.35"/><circle cx="1118.7" cy="551.0" r="2.35"/><circle cx="1131.5" cy="551.0" r="2.35"/><circle cx="1144.2" cy="551.0" r="2.35"/><circle cx="1284.4" cy="583.7" r="2.35"/><circle cx="1297.1" cy="551.0" r="2.35"/><circle cx="1309.8" cy="624.0" r="2.35"/><circle cx="1335.3" cy="551.0" r="2.35"/><circle cx="1348.1" cy="551.0" r="2.35"/><circle cx="1360.8" cy="551.0" r="2.35"/><circle cx="1373.6" cy="551.0" r="2.35"/><circle cx="1386.3" cy="551.0" r="2.35"/><circle cx="1399.0" cy="556.3" r="2.35"/><circle cx="1411.8" cy="559.9" r="2.35"/><circle cx="1424.5" cy="551.0" r="2.35"/><circle cx="1437.3" cy="763.3" r="2.35"/><circle cx="1450.0" cy="763.3" r="2.35"/><circle cx="1564.7" cy="552.7" r="2.35"/><circle cx="1577.4" cy="556.1" r="2.35"/><circle cx="1590.2" cy="551.0" r="2.35"/><circle cx="1602.9" cy="551.0" r="2.35"/><circle cx="1615.7" cy="551.0" r="2.35"/><circle cx="1628.4" cy="551.0" r="2.35"/><circle cx="1641.1" cy="551.0" r="2.35"/><circle cx="1653.9" cy="551.0" r="2.35"/><circle cx="1666.6" cy="551.0" r="2.35"/><circle cx="1679.4" cy="551.0" r="2.35"/><circle cx="1692.1" cy="551.0" r="2.35"/><circle cx="1704.8" cy="551.0" r="2.35"/><circle cx="1717.6" cy="551.0" r="2.35"/><circle cx="1730.3" cy="557.4" r="2.35"/><circle cx="1743.1" cy="551.0" r="2.35"/></g></g>
<g><path d="M341.4,759.1Q350.7,743.8 354.2,729.3C362.5,695.3 353.5,563.5 366.9,551.0C370.5,547.7 375.4,551.0 379.7,551.0C383.9,551.0 388.2,551.0 392.4,551.0C396.7,551.0 400.9,551.0 405.2,551.0C409.4,551.0 413.7,551.0 417.9,551.0C422.1,551.0 426.4,551.0 430.6,551.0C434.9,551.0 439.1,551.0 443.4,551.0C447.6,551.0 451.9,551.0 456.1,551.0C460.4,551.0 465.3,548.0 468.9,551.0C477.9,558.7 477.4,633.8 481.6,633.8C485.9,633.8 485.3,558.7 494.4,551.0C497.9,548.0 502.8,551.0 507.1,551.0C511.3,551.0 515.6,551.0 519.8,551.0C524.1,551.0 526.2,551.0 532.6,551.0C551.7,551.0 628.1,551.0 647.3,551.0C653.6,551.0 655.8,551.0 660.0,551.0C664.2,551.0 668.5,551.0 672.7,551.0C677.0,551.0 681.2,551.0 685.5,551.0C689.7,551.0 694.0,551.0 698.2,551.0C702.5,551.0 706.7,551.0 711.0,551.0C715.2,551.0 720.2,548.1 723.7,551.0C731.5,557.4 732.2,612.6 736.5,612.6C740.7,612.6 741.4,557.4 749.2,551.0C752.7,548.1 757.7,551.0 761.9,551.0C766.2,551.0 770.4,551.0 774.7,551.0C778.9,551.0 783.2,551.0 787.4,551.0C791.7,551.0 795.9,551.0 800.2,551.0C804.4,551.0 808.7,551.0 812.9,551.0C817.2,551.0 821.4,551.0 825.6,551.0C829.9,551.0 831.9,551.0 838.4,551.0C858.8,551.0 945.4,551.0 965.8,551.0C972.3,551.0 974.3,551.0 978.5,551.0C982.8,551.0 987.0,551.0 991.3,551.0C995.5,551.0 999.8,551.0 1004.0,551.0C1008.3,551.0 1012.5,551.0 1016.8,551.0C1021.0,551.0 1025.3,551.0 1029.5,551.0C1033.8,551.0 1038.0,551.0 1042.3,551.0C1046.5,551.0 1050.8,551.0 1055.0,551.0C1059.2,551.0 1063.5,551.0 1067.7,551.0C1072.0,551.0 1076.2,551.0 1080.5,551.0C1084.7,551.0 1089.0,551.0 1093.2,551.0C1097.5,551.0 1101.7,551.0 1106.0,551.0C1110.2,551.0 1114.5,551.0 1118.7,551.0C1123.0,551.0 1127.2,551.0 1131.5,551.0C1135.7,551.0 1138.8,548.1 1144.2,551.0C1168.2,563.9 1260.3,750.4 1284.4,763.3C1289.7,766.2 1292.9,763.3 1297.1,763.3C1301.3,763.3 1306.0,766.7 1309.8,763.3C1325.5,749.4 1319.7,564.9 1335.3,551.0C1339.1,547.6 1343.8,551.0 1348.1,551.0C1352.3,551.0 1356.6,551.0 1360.8,551.0C1365.1,551.0 1369.3,551.0 1373.6,551.0C1377.8,551.0 1382.0,551.0 1386.3,551.0C1390.5,551.0 1395.5,547.8 1399.0,551.0C1409.7,560.5 1407.3,629.0 1411.8,665.6C1415.9,699.5 1414.7,754.7 1424.5,763.3C1428.0,766.4 1431.3,765.3 1437.3,763.3C1458.3,756.2 1542.4,705.9 1564.7,666.7C1583.7,633.2 1566.7,560.6 1577.4,551.0C1581.0,547.8 1585.9,551.0 1590.2,551.0C1594.4,551.0 1598.7,551.0 1602.9,551.0C1607.2,551.0 1611.4,551.0 1615.7,551.0C1619.9,551.0 1624.1,551.0 1628.4,551.0C1632.6,551.0 1636.9,551.0 1641.1,551.0C1645.4,551.0 1649.6,551.0 1653.9,551.0C1658.1,551.0 1662.4,551.0 1666.6,551.0C1670.9,551.0 1675.1,551.0 1679.4,551.0C1683.6,551.0 1687.9,551.0 1692.1,551.0C1696.3,551.0 1700.6,551.0 1704.8,551.0C1709.1,551.0 1713.3,551.0 1717.6,551.0C1721.8,551.0 1726.7,547.6 1730.3,551.0Q1745.1,564.9 1743.1,763.3" fill="none" stroke="#22dff2" stroke-width="2.2"/>
<g fill="#22dff2"><circle cx="341.4" cy="759.1" r="2.35"/><circle cx="354.2" cy="729.3" r="2.35"/><circle cx="366.9" cy="551.0" r="2.35"/><circle cx="379.7" cy="551.0" r="2.35"/><circle cx="392.4" cy="551.0" r="2.35"/><circle cx="405.2" cy="551.0" r="2.35"/><circle cx="417.9" cy="551.0" r="2.35"/><circle cx="430.6" cy="551.0" r="2.35"/><circle cx="443.4" cy="551.0" r="2.35"/><circle cx="456.1" cy="551.0" r="2.35"/><circle cx="468.9" cy="551.0" r="2.35"/><circle cx="481.6" cy="633.8" r="2.35"/><circle cx="494.4" cy="551.0" r="2.35"/><circle cx="507.1" cy="551.0" r="2.35"/><circle cx="519.8" cy="551.0" r="2.35"/><circle cx="532.6" cy="551.0" r="2.35"/><circle cx="647.3" cy="551.0" r="2.35"/><circle cx="660.0" cy="551.0" r="2.35"/><circle cx="672.7" cy="551.0" r="2.35"/><circle cx="685.5" cy="551.0" r="2.35"/><circle cx="698.2" cy="551.0" r="2.35"/><circle cx="711.0" cy="551.0" r="2.35"/><circle cx="723.7" cy="551.0" r="2.35"/><circle cx="736.5" cy="612.6" r="2.35"/><circle cx="749.2" cy="551.0" r="2.35"/><circle cx="761.9" cy="551.0" r="2.35"/><circle cx="774.7" cy="551.0" r="2.35"/><circle cx="787.4" cy="551.0" r="2.35"/><circle cx="800.2" cy="551.0" r="2.35"/><circle cx="812.9" cy="551.0" r="2.35"/><circle cx="825.6" cy="551.0" r="2.35"/><circle cx="838.4" cy="551.0" r="2.35"/><circle cx="965.8" cy="551.0" r="2.35"/><circle cx="978.5" cy="551.0" r="2.35"/><circle cx="991.3" cy="551.0" r="2.35"/><circle cx="1004.0" cy="551.0" r="2.35"/><circle cx="1016.8" cy="551.0" r="2.35"/><circle cx="1029.5" cy="551.0" r="2.35"/><circle cx="1042.3" cy="551.0" r="2.35"/><circle cx="1055.0" cy="551.0" r="2.35"/><circle cx="1067.7" cy="551.0" r="2.35"/><circle cx="1080.5" cy="551.0" r="2.35"/><circle cx="1093.2" cy="551.0" r="2.35"/><circle cx="1106.0" cy="551.0" r="2.35"/><circle cx="1118.7" cy="551.0" r="2.35"/><circle cx="1131.5" cy="551.0" r="2.35"/><circle cx="1144.2" cy="551.0" r="2.35"/><circle cx="1284.4" cy="763.3" r="2.35"/><circle cx="1297.1" cy="763.3" r="2.35"/><circle cx="1309.8" cy="763.3" r="2.35"/><circle cx="1335.3" cy="551.0" r="2.35"/><circle cx="1348.1" cy="551.0" r="2.35"/><circle cx="1360.8" cy="551.0" r="2.35"/><circle cx="1373.6" cy="551.0" r="2.35"/><circle cx="1386.3" cy="551.0" r="2.35"/><circle cx="1399.0" cy="551.0" r="2.35"/><circle cx="1411.8" cy="665.6" r="2.35"/><circle cx="1424.5" cy="763.3" r="2.35"/><circle cx="1437.3" cy="763.3" r="2.35"/><circle cx="1564.7" cy="666.7" r="2.35"/><circle cx="1577.4" cy="551.0" r="2.35"/><circle cx="1590.2" cy="551.0" r="2.35"/><circle cx="1602.9" cy="551.0" r="2.35"/><circle cx="1615.7" cy="551.0" r="2.35"/><circle cx="1628.4" cy="551.0" r="2.35"/><circle cx="1641.1" cy="551.0" r="2.35"/><circle cx="1653.9" cy="551.0" r="2.35"/><circle cx="1666.6" cy="551.0" r="2.35"/><circle cx="1679.4" cy="551.0" r="2.35"/><circle cx="1692.1" cy="551.0" r="2.35"/><circle cx="1704.8" cy="551.0" r="2.35"/><circle cx="1717.6" cy="551.0" r="2.35"/><circle cx="1730.3" cy="551.0" r="2.35"/><circle cx="1743.1" cy="763.3" r="2.35"/></g></g>
<g><path d="M341.4,759.1Q350.7,746.7 354.2,734.0C363.2,701.5 353.3,563.7 366.9,551.0C370.5,547.6 375.4,551.0 379.7,551.0C383.9,551.0 388.2,551.0 392.4,551.0C396.7,551.0 400.9,551.0 405.2,551.0C409.4,551.0 413.7,551.0 417.9,551.0C422.1,551.0 426.4,551.0 430.6,551.0C434.9,551.0 439.1,551.0 443.4,551.0C447.6,551.0 452.5,548.6 456.1,551.0C461.8,554.7 465.1,567.9 468.9,579.2C474.1,594.9 477.6,637.3 481.6,637.2C486.2,637.1 486.0,568.8 494.4,557.4C497.9,552.6 503.4,549.6 507.1,551.0C512.8,553.2 515.6,583.7 519.8,583.7C524.1,583.7 522.3,558.0 532.6,551.0C551.1,538.3 628.1,551.0 647.3,551.0C653.6,551.0 655.8,551.0 660.0,551.0C664.2,551.0 668.9,549.1 672.7,551.0C677.7,553.5 681.2,568.0 685.5,568.0C689.7,568.0 693.4,552.4 698.2,551.0C702.1,549.9 706.7,554.7 711.0,556.1C715.2,557.5 720.2,555.8 723.7,559.5C731.1,567.2 732.3,616.2 736.5,616.2C740.9,616.1 741.2,557.6 749.2,551.0C752.7,548.1 757.7,551.0 761.9,551.0C766.2,551.0 770.4,551.0 774.7,551.0C778.9,551.0 783.2,551.0 787.4,551.0C791.7,551.0 795.9,551.0 800.2,551.0C804.4,551.0 808.7,551.0 812.9,551.0C817.2,551.0 821.5,550.3 825.6,551.0C830.0,551.8 831.8,554.6 838.4,555.7C858.7,558.9 945.4,551.4 965.8,551.0C972.3,550.9 974.3,550.4 978.5,551.0C982.8,551.6 987.0,554.3 991.3,554.4C995.5,554.5 1000.5,549.6 1004.0,551.8C1011.4,556.6 1012.5,606.2 1016.8,606.2C1021.0,606.2 1022.4,561.7 1029.5,554.4C1033.1,550.8 1038.0,551.6 1042.3,551.0C1046.5,550.4 1051.5,548.1 1055.0,551.0C1063.4,558.0 1063.5,621.9 1067.7,621.9C1072.0,621.9 1072.1,558.0 1080.5,551.0C1084.0,548.1 1089.0,551.0 1093.2,551.0C1097.5,551.0 1101.7,551.0 1106.0,551.0C1110.2,551.0 1114.5,551.0 1118.7,551.0C1123.0,551.0 1127.2,551.0 1131.5,551.0C1135.7,551.0 1138.6,548.2 1144.2,551.0C1170.1,563.6 1278.8,771.9 1309.8,763.3C1337.5,755.6 1322.4,555.1 1335.3,551.0C1339.2,549.8 1343.8,565.2 1348.1,565.2C1352.3,565.2 1356.1,552.7 1360.8,551.0C1364.7,549.6 1369.3,552.9 1373.6,553.1C1377.8,553.4 1382.1,551.9 1386.3,552.5C1390.6,553.1 1395.5,552.7 1399.0,557.2C1409.3,570.2 1407.3,634.1 1411.8,669.9C1415.8,702.5 1414.9,754.9 1424.5,763.3C1428.0,766.4 1431.3,765.3 1437.3,763.3C1458.3,756.3 1542.6,706.5 1564.7,668.0C1583.2,635.8 1567.6,571.5 1577.4,557.4C1581.0,552.3 1585.8,552.0 1590.2,551.0C1594.3,550.0 1598.7,551.0 1602.9,551.0C1607.2,551.0 1611.4,551.0 1615.7,551.0C1619.9,551.0 1624.2,550.7 1628.4,551.0C1632.6,551.3 1636.9,552.7 1641.1,552.7C1645.4,552.7 1649.6,551.3 1653.9,551.0C1658.1,550.7 1662.4,551.0 1666.6,551.0C1670.9,551.0 1675.1,551.0 1679.4,551.0C1683.6,551.0 1687.9,551.0 1692.1,551.0C1696.3,551.0 1700.6,551.0 1704.8,551.0C1709.1,551.0 1713.5,550.0 1717.6,551.0Q1722.0,552.0 1730.3,557.4" fill="none" stroke="#333a3d" stroke-width="2.2"/>
<g fill="#333a3d"><circle cx="341.4" cy="759.1" r="2.35"/><circle cx="354.2" cy="734.0" r="2.35"/><circle cx="366.9" cy="551.0" r="2.35"/><circle cx="379.7" cy="551.0" r="2.35"/><circle cx="392.4" cy="551.0" r="2.35"/><circle cx="405.2" cy="551.0" r="2.35"/><circle cx="417.9" cy="551.0" r="2.35"/><circle cx="430.6" cy="551.0" r="2.35"/><circle cx="443.4" cy="551.0" r="2.35"/><circle cx="456.1" cy="551.0" r="2.35"/><circle cx="468.9" cy="579.2" r="2.35"/><circle cx="481.6" cy="637.2" r="2.35"/><circle cx="494.4" cy="557.4" r="2.35"/><circle cx="507.1" cy="551.0" r="2.35"/><circle cx="519.8" cy="583.7" r="2.35"/><circle cx="532.6" cy="551.0" r="2.35"/><circle cx="647.3" cy="551.0" r="2.35"/><circle cx="660.0" cy="551.0" r="2.35"/><circle cx="672.7" cy="551.0" r="2.35"/><circle cx="685.5" cy="568.0" r="2.35"/><circle cx="698.2" cy="551.0" r="2.35"/><circle cx="711.0" cy="556.1" r="2.35"/><circle cx="723.7" cy="559.5" r="2.35"/><circle cx="736.5" cy="616.2" r="2.35"/><circle cx="749.2" cy="551.0" r="2.35"/><circle cx="761.9" cy="551.0" r="2.35"/><circle cx="774.7" cy="551.0" r="2.35"/><circle cx="787.4" cy="551.0" r="2.35"/><circle cx="800.2" cy="551.0" r="2.35"/><circle cx="812.9" cy="551.0" r="2.35"/><circle cx="825.6" cy="551.0" r="2.35"/><circle cx="838.4" cy="555.7" r="2.35"/><circle cx="965.8" cy="551.0" r="2.35"/><circle cx="978.5" cy="551.0" r="2.35"/><circle cx="991.3" cy="554.4" r="2.35"/><circle cx="1004.0" cy="551.8" r="2.35"/><circle cx="1016.8" cy="606.2" r="2.35"/><circle cx="1029.5" cy="554.4" r="2.35"/><circle cx="1042.3" cy="551.0" r="2.35"/><circle cx="1055.0" cy="551.0" r="2.35"/><circle cx="1067.7" cy="621.9" r="2.35"/><circle cx="1080.5" cy="551.0" r="2.35"/><circle cx="1093.2" cy="551.0" r="2.35"/><circle cx="1106.0" cy="551.0" r="2.35"/><circle cx="1118.7" cy="551.0" r="2.35"/><circle cx="1131.5" cy="551.0" r="2.35"/><circle cx="1144.2" cy="551.0" r="2.35"/><circle cx="1309.8" cy="763.3" r="2.35"/><circle cx="1335.3" cy="551.0" r="2.35"/><circle cx="1348.1" cy="565.2" r="2.35"/><circle cx="1360.8" cy="551.0" r="2.35"/><circle cx="1373.6" cy="553.1" r="2.35"/><circle cx="1386.3" cy="552.5" r="2.35"/><circle cx="1399.0" cy="557.2" r="2.35"/><circle cx="1411.8" cy="669.9" r="2.35"/><circle cx="1424.5" cy="763.3" r="2.35"/><circle cx="1437.3" cy="763.3" r="2.35"/><circle cx="1564.7" cy="668.0" r="2.35"/><circle cx="1577.4" cy="557.4" r="2.35"/><circle cx="1590.2" cy="551.0" r="2.35"/><circle cx="1602.9" cy="551.0" r="2.35"/><circle cx="1615.7" cy="551.0" r="2.35"/><circle cx="1628.4" cy="551.0" r="2.35"/><circle cx="1641.1" cy="552.7" r="2.35"/><circle cx="1653.9" cy="551.0" r="2.35"/><circle cx="1666.6" cy="551.0" r="2.35"/><circle cx="1679.4" cy="551.0" r="2.35"/><circle cx="1692.1" cy="551.0" r="2.35"/><circle cx="1704.8" cy="551.0" r="2.35"/><circle cx="1717.6" cy="551.0" r="2.35"/><circle cx="1730.3" cy="557.4" r="2.35"/></g></g>
<g><path d="M341.4,551.0Q349.9,551.0 354.2,551.0C358.4,551.0 362.7,551.0 366.9,551.0C371.2,551.0 375.4,551.0 379.7,551.0C383.9,551.0 388.2,551.0 392.4,551.0C396.7,551.0 400.9,551.0 405.2,551.0C409.4,551.0 413.7,551.0 417.9,551.0C422.1,551.0 426.4,551.0 430.6,551.0C434.9,551.0 439.1,551.0 443.4,551.0C447.6,551.0 451.9,551.0 456.1,551.0C460.4,551.0 464.6,551.0 468.9,551.0C473.1,551.0 477.4,551.0 481.6,551.0C485.9,551.0 490.1,551.0 494.4,551.0C498.6,551.0 502.8,551.0 507.1,551.0C511.3,551.0 515.6,551.0 519.8,551.0C524.1,551.0 526.2,551.0 532.6,551.0C551.7,551.0 628.1,551.0 647.3,551.0C653.6,551.0 655.8,551.0 660.0,551.0C664.2,551.0 668.5,551.0 672.7,551.0C677.0,551.0 681.2,551.0 685.5,551.0C689.7,551.0 694.0,551.0 698.2,551.0C702.5,551.0 706.7,551.0 711.0,551.0C715.2,551.0 719.5,551.0 723.7,551.0C728.0,551.0 732.2,551.0 736.5,551.0C740.7,551.0 744.9,551.0 749.2,551.0C753.4,551.0 757.7,551.0 761.9,551.0C766.2,551.0 770.4,551.0 774.7,551.0C778.9,551.0 783.2,551.0 787.4,551.0C791.7,551.0 795.9,551.0 800.2,551.0C804.4,551.0 808.7,551.0 812.9,551.0C817.2,551.0 821.4,551.0 825.6,551.0C829.9,551.0 831.9,551.0 838.4,551.0C858.8,551.0 945.4,551.0 965.8,551.0C972.3,551.0 974.3,551.0 978.5,551.0C982.8,551.0 987.0,551.0 991.3,551.0C995.5,551.0 999.8,551.0 1004.0,551.0C1008.3,551.0 1012.5,551.0 1016.8,551.0C1021.0,551.0 1025.3,551.0 1029.5,551.0C1033.8,551.0 1038.0,551.0 1042.3,551.0C1046.5,551.0 1050.8,551.0 1055.0,551.0C1059.2,551.0 1063.5,551.0 1067.7,551.0C1072.0,551.0 1076.2,551.0 1080.5,551.0C1084.7,551.0 1089.0,551.0 1093.2,551.0C1097.5,551.0 1101.7,551.0 1106.0,551.0C1110.2,551.0 1114.5,551.0 1118.7,551.0C1123.0,551.0 1127.2,551.0 1131.5,551.0C1135.7,551.0 1137.6,551.0 1144.2,551.0C1167.0,551.0 1274.3,551.0 1297.1,551.0C1303.7,551.0 1304.9,551.0 1309.8,551.0C1316.9,551.0 1328.3,551.0 1335.3,551.0C1340.3,551.0 1343.8,551.0 1348.1,551.0C1352.3,551.0 1356.6,551.0 1360.8,551.0C1365.1,551.0 1369.3,551.0 1373.6,551.0C1377.8,551.0 1382.0,551.0 1386.3,551.0C1390.5,551.0 1394.8,551.0 1399.0,551.0C1403.3,551.0 1407.5,551.0 1411.8,551.0C1416.0,551.0 1418.0,551.0 1424.5,551.0C1446.2,551.0 1543.0,551.0 1564.7,551.0C1571.2,551.0 1573.2,551.0 1577.4,551.0C1581.7,551.0 1585.9,551.0 1590.2,551.0C1594.4,551.0 1598.7,551.0 1602.9,551.0C1607.2,551.0 1611.4,551.0 1615.7,551.0C1619.9,551.0 1624.1,551.0 1628.4,551.0C1632.6,551.0 1636.9,551.0 1641.1,551.0C1645.4,551.0 1649.6,551.0 1653.9,551.0C1658.1,551.0 1662.4,551.0 1666.6,551.0C1670.9,551.0 1675.1,551.0 1679.4,551.0C1683.6,551.0 1687.9,551.0 1692.1,551.0C1696.3,551.0 1700.6,551.0 1704.8,551.0C1709.1,551.0 1713.3,551.0 1717.6,551.0Q1721.8,551.0 1730.3,551.0" fill="none" stroke="#0d6efd" stroke-width="2.2"/>
<g fill="#0d6efd"><circle cx="341.4" cy="551.0" r="2.35"/><circle cx="354.2" cy="551.0" r="2.35"/><circle cx="366.9" cy="551.0" r="2.35"/><circle cx="379.7" cy="551.0" r="2.35"/><circle cx="392.4" cy="551.0" r="2.35"/><circle cx="405.2" cy="551.0" r="2.35"/><circle cx="417.9" cy="551.0" r="2.35"/><circle cx="430.6" cy="551.0" r="2.35"/><circle cx="443.4" cy="551.0" r="2.35"/><circle cx="456.1" cy="551.0" r="2.35"/><circle cx="468.9" cy="551.0" r="2.35"/><circle cx="481.6" cy="551.0" r="2.35"/><circle cx="494.4" cy="551.0" r="2.35"/><circle cx="507.1" cy="551.0" r="2.35"/><circle cx="519.8" cy="551.0" r="2.35"/><circle cx="532.6" cy="551.0" r="2.35"/><circle cx="647.3" cy="551.0" r="2.35"/><circle cx="660.0" cy="551.0" r="2.35"/><circle cx="672.7" cy="551.0" r="2.35"/><circle cx="685.5" cy="551.0" r="2.35"/><circle cx="698.2" cy="551.0" r="2.35"/><circle cx="711.0" cy="551.0" r="2.35"/><circle cx="723.7" cy="551.0" r="2.35"/><circle cx="736.5" cy="551.0" r="2.35"/><circle cx="749.2" cy="551.0" r="2.35"/><circle cx="761.9" cy="551.0" r="2.35"/><circle cx="774.7" cy="551.0" r="2.35"/><circle cx="787.4" cy="551.0" r="2.35"/><circle cx="800.2" cy="551.0" r="2.35"/><circle cx="812.9" cy="551.0" r="2.35"/><circle cx="825.6" cy="551.0" r="2.35"/><circle cx="838.4" cy="551.0" r="2.35"/><circle cx="965.8" cy="551.0" r="2.35"/><circle cx="978.5" cy="551.0" r="2.35"/><circle cx="991.3" cy="551.0" r="2.35"/><circle cx="1004.0" cy="551.0" r="2.35"/><circle cx="1016.8" cy="551.0" r="2.35"/><circle cx="1029.5" cy="551.0" r="2.35"/><circle cx="1042.3" cy="551.0" r="2.35"/><circle cx="1055.0" cy="551.0" r="2.35"/><circle cx="1067.7" cy="551.0" r="2.35"/><circle cx="1080.5" cy="551.0" r="2.35"/><circle cx="1093.2" cy="551.0" r="2.35"/><circle cx="1106.0" cy="551.0" r="2.35"/><circle cx="1118.7" cy="551.0" r="2.35"/><circle cx="1131.5" cy="551.0" r="2.35"/><circle cx="1144.2" cy="551.0" r="2.35"/><circle cx="1297.1" cy="551.0" r="2.35"/><circle cx="1309.8" cy="551.0" r="2.35"/><circle cx="1335.3" cy="551.0" r="2.35"/><circle cx="1348.1" cy="551.0" r="2.35"/><circle cx="1360.8" cy="551.0" r="2.35"/><circle cx="1373.6" cy="551.0" r="2.35"/><circle cx="1386.3" cy="551.0" r="2.35"/><circle cx="1399.0" cy="551.0" r="2.35"/><circle cx="1411.8" cy="551.0" r="2.35"/><circle cx="1424.5" cy="551.0" r="2.35"/><circle cx="1564.7" cy="551.0" r="2.35"/><circle cx="1577.4" cy="551.0" r="2.35"/><circle cx="1590.2" cy="551.0" r="2.35"/><circle cx="1602.9" cy="551.0" r="2.35"/><circle cx="1615.7" cy="551.0" r="2.35"/><circle cx="1628.4" cy="551.0" r="2.35"/><circle cx="1641.1" cy="551.0" r="2.35"/><circle cx="1653.9" cy="551.0" r="2.35"/><circle cx="1666.6" cy="551.0" r="2.35"/><circle cx="1679.4" cy="551.0" r="2.35"/><circle cx="1692.1" cy="551.0" r="2.35"/><circle cx="1704.8" cy="551.0" r="2.35"/><circle cx="1717.6" cy="551.0" r="2.35"/><circle cx="1730.3" cy="551.0" r="2.35"/></g></g>
<g><path d="M341.4,693.2Q350.2,697.4 354.2,700.9C358.8,704.9 363.0,717.1 366.9,716.6C371.7,716.0 374.8,696.5 379.7,689.0C383.5,683.0 388.9,681.8 392.4,674.1C399.6,658.8 398.5,597.1 405.2,595.6C408.7,594.8 412.9,611.6 417.9,614.1C421.7,615.9 426.6,612.3 430.6,613.4C435.1,614.6 439.8,623.1 443.4,621.9C449.2,619.9 451.6,584.5 456.1,584.3C460.2,584.1 465.2,600.7 468.9,613.0C474.8,633.2 477.4,695.8 481.6,695.8C485.9,695.8 488.1,632.4 494.4,613.4C497.9,602.6 502.8,589.2 507.1,589.2C511.3,589.2 516.2,602.9 519.8,613.4C525.7,630.4 517.2,667.1 532.6,683.3C552.4,704.1 628.0,722.2 647.3,710.2C660.6,701.9 654.5,656.1 660.0,655.2C663.7,654.7 668.6,676.8 672.7,676.7C677.1,676.6 681.3,661.1 685.5,652.9C689.8,644.3 694.2,636.1 698.2,626.4C702.8,615.1 707.3,588.9 711.0,589.2C716.6,589.7 719.1,651.5 723.7,679.2C727.7,703.3 732.7,746.5 736.5,746.3C741.7,746.1 739.5,633.1 749.2,613.0C752.7,605.7 757.7,604.9 761.9,600.7C766.2,596.3 771.1,586.1 774.7,587.1C780.8,588.7 782.2,625.3 787.4,639.3C791.2,649.5 796.5,665.1 800.2,664.6C805.6,663.9 805.2,611.0 812.9,604.3C816.4,601.2 822.0,601.1 825.6,603.4C831.7,607.4 829.9,623.8 838.4,637.8C856.8,667.9 932.6,770.1 953.1,763.3C971.2,757.3 958.5,632.4 965.8,631.2C969.3,630.7 974.9,647.5 978.5,659.7C984.4,679.2 987.1,738.7 991.3,738.7C995.6,738.7 995.2,663.3 1004.0,657.1C1007.6,654.7 1013.0,657.0 1016.8,659.7C1022.0,663.4 1025.8,681.7 1029.5,681.1C1034.9,680.4 1037.5,645.5 1042.3,630.6C1046.2,618.5 1051.3,597.8 1055.0,598.1C1060.4,598.7 1059.7,668.7 1067.7,672.6C1071.3,674.4 1076.5,669.0 1080.5,665.9C1085.1,662.3 1089.5,657.9 1093.2,651.6C1098.5,642.7 1102.0,628.4 1106.0,615.3C1110.6,600.2 1112.0,574.6 1118.7,566.1C1122.3,561.6 1127.9,557.5 1131.5,559.3C1140.6,564.0 1128.4,626.2 1144.2,656.7C1164.1,695.3 1238.8,755.4 1258.9,763.3C1264.6,765.5 1268.1,766.4 1271.6,763.3C1281.8,754.3 1279.5,659.0 1284.4,658.8C1288.2,658.7 1290.5,721.4 1297.1,723.2C1300.7,724.2 1306.2,708.0 1309.8,709.0C1316.0,710.5 1317.7,763.0 1322.6,763.3C1326.4,763.6 1331.7,744.6 1335.3,730.6C1341.3,707.5 1343.4,664.6 1348.1,635.7C1352.0,611.2 1354.3,569.6 1360.8,568.0C1364.4,567.1 1368.7,581.1 1373.6,584.3C1377.4,586.9 1382.0,587.3 1386.3,587.7C1390.5,588.2 1395.4,584.7 1399.0,587.1C1405.3,591.3 1407.6,623.2 1411.8,623.2C1416.1,623.1 1421.0,584.7 1424.5,585.2C1432.0,586.1 1423.8,750.8 1437.3,763.3C1440.9,766.6 1444.5,765.8 1450.0,763.3C1470.5,754.0 1546.3,664.5 1564.7,632.9C1573.4,618.0 1572.9,607.4 1577.4,596.2C1581.4,586.4 1584.9,570.8 1590.2,569.3C1593.9,568.1 1598.6,574.9 1602.9,577.1C1607.1,579.2 1612.0,578.6 1615.7,582.4C1621.7,588.8 1624.6,604.9 1628.4,618.7C1633.3,636.5 1636.9,680.5 1641.1,680.5C1645.4,680.5 1649.4,635.8 1653.9,614.9C1658.0,595.6 1662.2,559.4 1666.6,559.3C1670.7,559.2 1673.0,597.6 1679.4,606.6C1682.9,611.7 1687.8,615.1 1692.1,615.3C1696.3,615.5 1701.3,612.8 1704.8,608.3C1711.1,600.6 1714.0,565.5 1717.6,565.9C1723.6,566.4 1724.3,685.2 1730.3,685.8C1733.9,686.2 1739.5,644.1 1743.1,644.4Q1749.1,645.0 1755.8,763.3" fill="none" stroke="#1787e8" stroke-width="2.2"/>
<g fill="#1787e8"><circle cx="341.4" cy="693.2" r="2.35"/><circle cx="354.2" cy="700.9" r="2.35"/><circle cx="366.9" cy="716.6" r="2.35"/><circle cx="379.7" cy="689.0" r="2.35"/><circle cx="392.4" cy="674.1" r="2.35"/><circle cx="405.2" cy="595.6" r="2.35"/><circle cx="417.9" cy="614.1" r="2.35"/><circle cx="430.6" cy="613.4" r="2.35"/><circle cx="443.4" cy="621.9" r="2.35"/><circle cx="456.1" cy="584.3" r="2.35"/><circle cx="468.9" cy="613.0" r="2.35"/><circle cx="481.6" cy="695.8" r="2.35"/><circle cx="494.4" cy="613.4" r="2.35"/><circle cx="507.1" cy="589.2" r="2.35"/><circle cx="519.8" cy="613.4" r="2.35"/><circle cx="532.6" cy="683.3" r="2.35"/><circle cx="647.3" cy="710.2" r="2.35"/><circle cx="660.0" cy="655.2" r="2.35"/><circle cx="672.7" cy="676.7" r="2.35"/><circle cx="685.5" cy="652.9" r="2.35"/><circle cx="698.2" cy="626.4" r="2.35"/><circle cx="711.0" cy="589.2" r="2.35"/><circle cx="723.7" cy="679.2" r="2.35"/><circle cx="736.5" cy="746.3" r="2.35"/><circle cx="749.2" cy="613.0" r="2.35"/><circle cx="761.9" cy="600.7" r="2.35"/><circle cx="774.7" cy="587.1" r="2.35"/><circle cx="787.4" cy="639.3" r="2.35"/><circle cx="800.2" cy="664.6" r="2.35"/><circle cx="812.9" cy="604.3" r="2.35"/><circle cx="825.6" cy="603.4" r="2.35"/><circle cx="838.4" cy="637.8" r="2.35"/><circle cx="953.1" cy="763.3" r="2.35"/><circle cx="965.8" cy="631.2" r="2.35"/><circle cx="978.5" cy="659.7" r="2.35"/><circle cx="991.3" cy="738.7" r="2.35"/><circle cx="1004.0" cy="657.1" r="2.35"/><circle cx="1016.8" cy="659.7" r="2.35"/><circle cx="1029.5" cy="681.1" r="2.35"/><circle cx="1042.3" cy="630.6" r="2.35"/><circle cx="1055.0" cy="598.1" r="2.35"/><circle cx="1067.7" cy="672.6" r="2.35"/><circle cx="1080.5" cy="665.9" r="2.35"/><circle cx="1093.2" cy="651.6" r="2.35"/><circle cx="1106.0" cy="615.3" r="2.35"/><circle cx="1118.7" cy="566.1" r="2.35"/><circle cx="1131.5" cy="559.3" r="2.35"/><circle cx="1144.2" cy="656.7" r="2.35"/><circle cx="1258.9" cy="763.3" r="2.35"/><circle cx="1271.6" cy="763.3" r="2.35"/><circle cx="1284.4" cy="658.8" r="2.35"/><circle cx="1297.1" cy="723.2" r="2.35"/><circle cx="1309.8" cy="709.0" r="2.35"/><circle cx="1322.6" cy="763.3" r="2.35"/><circle cx="1335.3" cy="730.6" r="2.35"/><circle cx="1348.1" cy="635.7" r="2.35"/><circle cx="1360.8" cy="568.0" r="2.35"/><circle cx="1373.6" cy="584.3" r="2.35"/><circle cx="1386.3" cy="587.7" r="2.35"/><circle cx="1399.0" cy="587.1" r="2.35"/><circle cx="1411.8" cy="623.2" r="2.35"/><circle cx="1424.5" cy="585.2" r="2.35"/><circle cx="1437.3" cy="763.3" r="2.35"/><circle cx="1450.0" cy="763.3" r="2.35"/><circle cx="1564.7" cy="632.9" r="2.35"/><circle cx="1577.4" cy="596.2" r="2.35"/><circle cx="1590.2" cy="569.3" r="2.35"/><circle cx="1602.9" cy="577.1" r="2.35"/><circle cx="1615.7" cy="582.4" r="2.35"/><circle cx="1628.4" cy="618.7" r="2.35"/><circle cx="1641.1" cy="680.5" r="2.35"/><circle cx="1653.9" cy="614.9" r="2.35"/><circle cx="1666.6" cy="559.3" r="2.35"/><circle cx="1679.4" cy="606.6" r="2.35"/><circle cx="1692.1" cy="615.3" r="2.35"/><circle cx="1704.8" cy="608.3" r="2.35"/><circle cx="1717.6" cy="565.9" r="2.35"/><circle cx="1730.3" cy="685.8" r="2.35"/><circle cx="1743.1" cy="644.4" r="2.35"/><circle cx="1755.8" cy="763.3" r="2.35"/></g></g>
<g><path d="M341.4,762.2Q350.6,758.5 354.2,753.7C360.0,746.2 362.4,728.0 366.9,716.6C370.9,706.6 374.8,696.5 379.7,689.0C383.5,683.0 388.9,681.8 392.4,674.1C399.6,658.8 398.5,597.1 405.2,595.6C408.7,594.8 412.9,611.6 417.9,614.1C421.7,615.9 426.6,612.3 430.6,613.4C435.1,614.6 439.8,623.1 443.4,621.9C449.2,619.9 451.6,584.5 456.1,584.3C460.2,584.1 465.3,600.0 468.9,613.0C475.5,637.2 477.4,721.5 481.6,721.5C485.9,721.5 487.3,636.2 494.4,613.4C497.9,602.0 502.8,589.2 507.1,589.2C511.3,589.2 516.2,602.9 519.8,613.4C525.7,630.4 517.2,667.1 532.6,683.3C552.4,704.1 628.0,722.2 647.3,710.2C660.6,701.9 654.5,656.1 660.0,655.2C663.7,654.7 668.6,676.8 672.7,676.7C677.1,676.6 681.3,661.1 685.5,652.9C689.8,644.3 694.2,636.1 698.2,626.4C702.8,615.1 707.3,588.9 711.0,589.2C716.6,589.7 719.2,651.2 723.7,679.2C727.7,704.0 732.7,749.2 736.5,749.1C741.7,748.8 739.4,633.4 749.2,613.0C752.7,605.6 757.7,604.9 761.9,600.7C766.2,596.3 771.1,586.1 774.7,587.1C780.8,588.7 782.2,625.3 787.4,639.3C791.2,649.5 796.5,665.1 800.2,664.6C805.6,663.9 805.2,611.0 812.9,604.3C816.4,601.2 822.0,601.1 825.6,603.4C831.7,607.4 827.7,630.8 838.4,637.8C858.4,651.0 946.0,619.1 965.8,631.2C975.6,637.2 974.9,647.5 978.5,659.7C984.4,679.2 987.1,738.7 991.3,738.7C995.6,738.7 995.2,663.3 1004.0,657.1C1007.6,654.7 1013.0,657.0 1016.8,659.7C1022.0,663.4 1025.8,681.7 1029.5,681.1C1034.9,680.4 1037.5,645.5 1042.3,630.6C1046.2,618.5 1051.3,597.8 1055.0,598.1C1060.4,598.7 1059.7,668.7 1067.7,672.6C1071.3,674.4 1076.5,669.0 1080.5,665.9C1085.1,662.3 1089.5,657.9 1093.2,651.6C1098.5,642.7 1102.0,628.4 1106.0,615.3C1110.6,600.2 1112.0,574.6 1118.7,566.1C1122.3,561.6 1127.9,557.5 1131.5,559.3C1140.6,564.0 1125.6,627.3 1144.2,656.7C1170.6,698.4 1279.8,768.4 1309.8,763.3C1323.6,761.0 1329.1,745.4 1335.3,730.6C1344.8,708.1 1343.4,664.6 1348.1,635.7C1352.0,611.2 1354.2,569.6 1360.8,568.0C1364.4,567.1 1368.8,580.4 1373.6,583.7C1377.4,586.3 1382.0,587.2 1386.3,587.7C1390.5,588.3 1395.5,584.1 1399.0,587.1C1409.5,596.0 1406.8,666.9 1411.8,699.0C1415.6,723.5 1414.5,755.1 1424.5,763.3C1430.8,768.4 1438.9,766.0 1450.0,763.3C1475.0,757.2 1544.0,733.6 1564.7,703.6C1583.6,676.3 1570.7,619.8 1577.4,596.2C1581.0,583.9 1584.9,570.8 1590.2,569.3C1593.9,568.1 1598.6,574.9 1602.9,577.1C1607.1,579.2 1612.0,578.6 1615.7,582.4C1621.7,588.8 1624.6,604.9 1628.4,618.7C1633.3,636.5 1636.9,680.5 1641.1,680.5C1645.4,680.5 1649.4,635.8 1653.9,614.9C1658.0,595.6 1662.2,559.4 1666.6,559.3C1670.7,559.2 1673.0,597.6 1679.4,606.6C1682.9,611.7 1687.8,615.1 1692.1,615.3C1696.3,615.5 1701.3,612.8 1704.8,608.3C1711.1,600.6 1714.0,565.5 1717.6,565.9Q1723.6,566.4 1730.3,685.8" fill="none" stroke="#8c8c8c" stroke-width="2.2"/>
<g fill="#8c8c8c"><circle cx="341.4" cy="762.2" r="2.35"/><circle cx="354.2" cy="753.7" r="2.35"/><circle cx="366.9" cy="716.6" r="2.35"/><circle cx="379.7" cy="689.0" r="2.35"/><circle cx="392.4" cy="674.1" r="2.35"/><circle cx="405.2" cy="595.6" r="2.35"/><circle cx="417.9" cy="614.1" r="2.35"/><circle cx="430.6" cy="613.4" r="2.35"/><circle cx="443.4" cy="621.9" r="2.35"/><circle cx="456.1" cy="584.3" r="2.35"/><circle cx="468.9" cy="613.0" r="2.35"/><circle cx="481.6" cy="721.5" r="2.35"/><circle cx="494.4" cy="613.4" r="2.35"/><circle cx="507.1" cy="589.2" r="2.35"/><circle cx="519.8" cy="613.4" r="2.35"/><circle cx="532.6" cy="683.3" r="2.35"/><circle cx="647.3" cy="710.2" r="2.35"/><circle cx="660.0" cy="655.2" r="2.35"/><circle cx="672.7" cy="676.7" r="2.35"/><circle cx="685.5" cy="652.9" r="2.35"/><circle cx="698.2" cy="626.4" r="2.35"/><circle cx="711.0" cy="589.2" r="2.35"/><circle cx="723.7" cy="679.2" r="2.35"/><circle cx="736.5" cy="749.1" r="2.35"/><circle cx="749.2" cy="613.0" r="2.35"/><circle cx="761.9" cy="600.7" r="2.35"/><circle cx="774.7" cy="587.1" r="2.35"/><circle cx="787.4" cy="639.3" r="2.35"/><circle cx="800.2" cy="664.6" r="2.35"/><circle cx="812.9" cy="604.3" r="2.35"/><circle cx="825.6" cy="603.4" r="2.35"/><circle cx="838.4" cy="637.8" r="2.35"/><circle cx="965.8" cy="631.2" r="2.35"/><circle cx="978.5" cy="659.7" r="2.35"/><circle cx="991.3" cy="738.7" r="2.35"/><circle cx="1004.0" cy="657.1" r="2.35"/><circle cx="1016.8" cy="659.7" r="2.35"/><circle cx="1029.5" cy="681.1" r="2.35"/><circle cx="1042.3" cy="630.6" r="2.35"/><circle cx="1055.0" cy="598.1" r="2.35"/><circle cx="1067.7" cy="672.6" r="2.35"/><circle cx="1080.5" cy="665.9" r="2.35"/><circle cx="1093.2" cy="651.6" r="2.35"/><circle cx="1106.0" cy="615.3" r="2.35"/><circle cx="1118.7" cy="566.1" r="2.35"/><circle cx="1131.5" cy="559.3" r="2.35"/><circle cx="1144.2" cy="656.7" r="2.35"/><circle cx="1309.8" cy="763.3" r="2.35"/><circle cx="1335.3" cy="730.6" r="2.35"/><circle cx="1348.1" cy="635.7" r="2.35"/><circle cx="1360.8" cy="568.0" r="2.35"/><circle cx="1373.6" cy="583.7" r="2.35"/><circle cx="1386.3" cy="587.7" r="2.35"/><circle cx="1399.0" cy="587.1" r="2.35"/><circle cx="1411.8" cy="699.0" r="2.35"/><circle cx="1424.5" cy="763.3" r="2.35"/><circle cx="1450.0" cy="763.3" r="2.35"/><circle cx="1564.7" cy="703.6" r="2.35"/><circle cx="1577.4" cy="596.2" r="2.35"/><circle cx="1590.2" cy="569.3" r="2.35"/><circle cx="1602.9" cy="577.1" r="2.35"/><circle cx="1615.7" cy="582.4" r="2.35"/><circle cx="1628.4" cy="618.7" r="2.35"/><circle cx="1641.1" cy="680.5" r="2.35"/><circle cx="1653.9" cy="614.9" r="2.35"/><circle cx="1666.6" cy="559.3" r="2.35"/><circle cx="1679.4" cy="606.6" r="2.35"/><circle cx="1692.1" cy="615.3" r="2.35"/><circle cx="1704.8" cy="608.3" r="2.35"/><circle cx="1717.6" cy="565.9" r="2.35"/><circle cx="1730.3" cy="685.8" r="2.35"/></g></g>
<path d="M264.0 855.5H287.4" stroke="#9b00e8" stroke-width="2.2"/><circle cx="275.7" cy="855.5" r="2.4" fill="#9b00e8"/>
<path d="M354.4 855.5H377.9" stroke="#22dff2" stroke-width="2.2"/><circle cx="366.1" cy="855.5" r="2.4" fill="#22dff2"/>
<path d="M454.2 855.5H477.6" stroke="#444" stroke-width="2.2"/><circle cx="465.9" cy="855.5" r="2.4" fill="#444"/>
<path d="M511.3 855.5H535.3" stroke="#0d6efd" stroke-width="2.2"/><circle cx="523.3" cy="855.5" r="2.4" fill="#0d6efd"/>
<path d="M583.0 855.5H607.0" stroke="#1787e8" stroke-width="2.2"/><circle cx="595.0" cy="855.5" r="2.4" fill="#1787e8"/>
<path d="M705.0 855.5H729.0" stroke="#9a9a9a" stroke-width="2.2"/><circle cx="717.0" cy="855.5" r="2.4" fill="#9a9a9a"/>
</svg>
<span class="t" id="lg0" style="left:292.4px;top:850px;font-size:9.8px;line-height:11px;color:#222;transform:scaleX(1.1299);-webkit-text-stroke:0.25px #222;">Availability</span>
<span class="t" id="lg1" style="left:382.5px;top:850px;font-size:9.8px;line-height:11px;color:#222;transform:scaleX(1.1213);-webkit-text-stroke:0.25px #222;">Performance</span>
<span class="t" id="lg2" style="left:482.6px;top:850px;font-size:9.8px;line-height:11px;color:#222;transform:scaleX(0.9467);-webkit-text-stroke:0.25px #222;">OEE</span>
<span class="t" id="lg3" style="left:539.6px;top:850px;font-size:9.8px;line-height:11px;color:#222;transform:scaleX(1.1344);-webkit-text-stroke:0.25px #222;">Quality</span>
<span class="t" id="lg4" style="left:611.3px;top:850px;font-size:9.8px;line-height:11px;color:#222;transform:scaleX(1.1134);-webkit-text-stroke:0.25px #222;">Global availability</span>
<span class="t" id="lg5" style="left:733.3px;top:850px;font-size:9.8px;line-height:11px;color:#222;transform:scaleX(1.0361);-webkit-text-stroke:0.25px #222;">Global OEE</span>
<div class="abs " style="left:183.8px;top:843.7px;width:20.8px;height:20.8px;background:#2a967c;border-radius:50%"></div>
<svg class="i" style="left:186.2px;top:846.0px" width="16.0" height="16.0" viewBox="0 0 24 24" fill="#fff" ><path d="M15.41 7.41L14 6l-6 6 6 6 1.41-1.41L10.83 12z"/></svg>
<div class="abs" id="btm"></div>
</body></html>
